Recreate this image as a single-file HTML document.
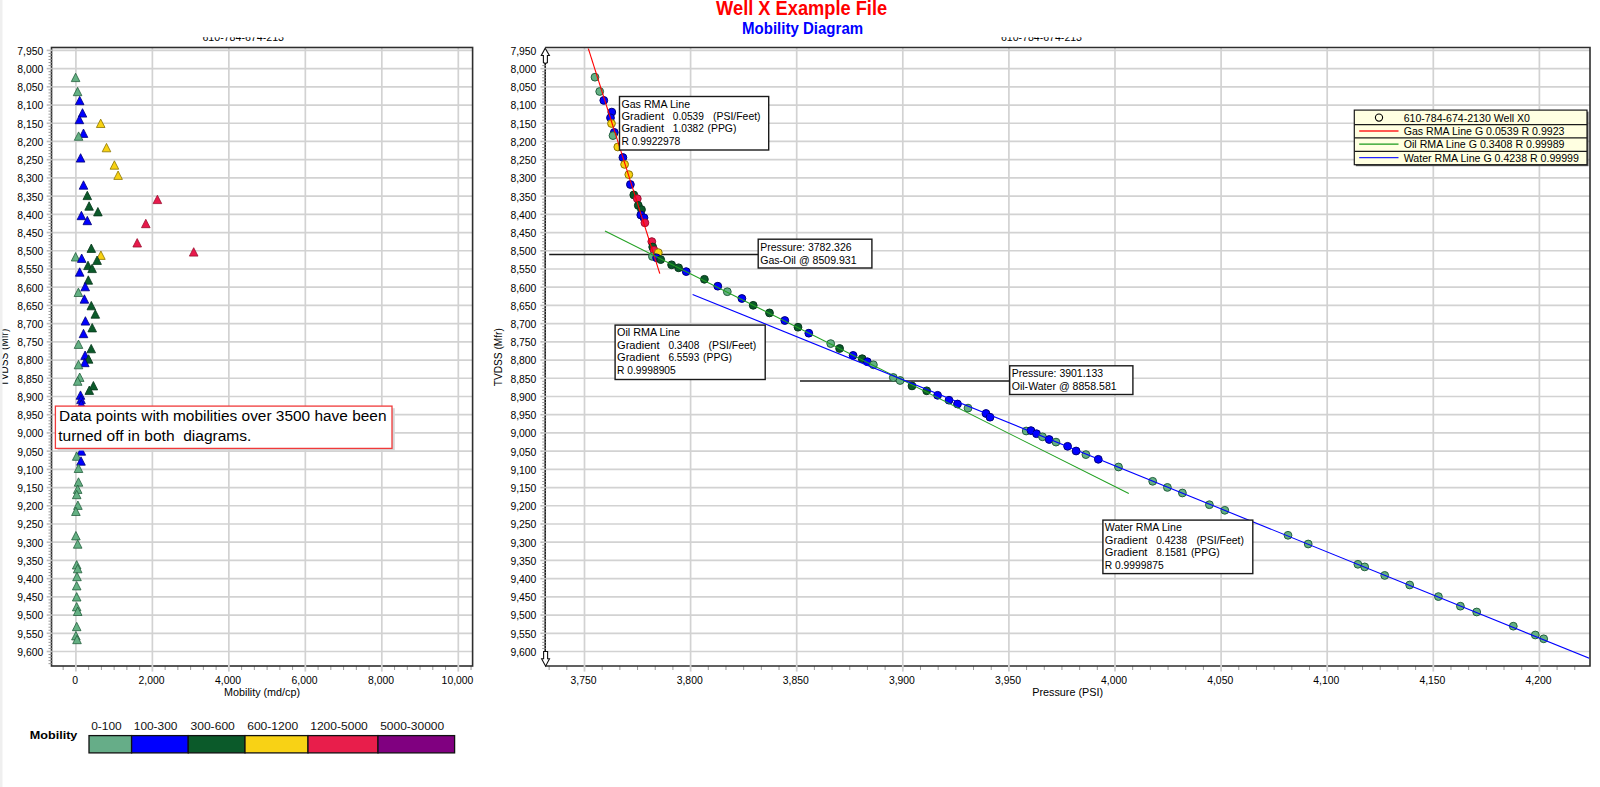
<!DOCTYPE html><html><head><meta charset="utf-8"><style>html,body{margin:0;padding:0;background:#fff;width:1600px;height:787px;overflow:hidden}svg{display:block}text{font-family:"Liberation Sans",sans-serif}</style></head><body>
<svg width="1600" height="787" viewBox="0 0 1600 787">
<rect x="0" y="0" width="1600" height="787" fill="#fff"/>
<rect x="0" y="0" width="2.5" height="787" fill="#efefef"/>
<text x="801.6" y="14.9" font-size="20" text-anchor="middle" fill="#ff0000" font-weight="bold" textLength="171" lengthAdjust="spacingAndGlyphs">Well X Example File</text>
<text x="802.6" y="33.7" font-size="16.6" text-anchor="middle" fill="#0000ff" font-weight="bold" textLength="121" lengthAdjust="spacingAndGlyphs">Mobility Diagram</text>
<clipPath id="sub"><rect x="0" y="37.3" width="1600" height="9"/></clipPath>
<g clip-path="url(#sub)">
<text x="243.2" y="41.3" font-size="11.5" text-anchor="middle" fill="#000" font-weight="normal" textLength="81.6" lengthAdjust="spacingAndGlyphs">610-784-674-213</text>
<text x="1041.5" y="41.3" font-size="11.5" text-anchor="middle" fill="#000" font-weight="normal" textLength="81" lengthAdjust="spacingAndGlyphs">610-784-674-213</text>
</g>
<line x1="51.5" y1="50.4" x2="472.6" y2="50.4" stroke="#d2d2d2" stroke-width="1.7"/>
<line x1="51.5" y1="68.61" x2="472.6" y2="68.61" stroke="#d2d2d2" stroke-width="1.7"/>
<line x1="51.5" y1="86.83" x2="472.6" y2="86.83" stroke="#d2d2d2" stroke-width="1.7"/>
<line x1="51.5" y1="105.05" x2="472.6" y2="105.05" stroke="#d2d2d2" stroke-width="1.7"/>
<line x1="51.5" y1="123.26" x2="472.6" y2="123.26" stroke="#d2d2d2" stroke-width="1.7"/>
<line x1="51.5" y1="141.47" x2="472.6" y2="141.47" stroke="#d2d2d2" stroke-width="1.7"/>
<line x1="51.5" y1="159.69" x2="472.6" y2="159.69" stroke="#d2d2d2" stroke-width="1.7"/>
<line x1="51.5" y1="177.91" x2="472.6" y2="177.91" stroke="#d2d2d2" stroke-width="1.7"/>
<line x1="51.5" y1="196.12" x2="472.6" y2="196.12" stroke="#d2d2d2" stroke-width="1.7"/>
<line x1="51.5" y1="214.34" x2="472.6" y2="214.34" stroke="#d2d2d2" stroke-width="1.7"/>
<line x1="51.5" y1="232.55" x2="472.6" y2="232.55" stroke="#d2d2d2" stroke-width="1.7"/>
<line x1="51.5" y1="250.77" x2="472.6" y2="250.77" stroke="#d2d2d2" stroke-width="1.7"/>
<line x1="51.5" y1="268.98" x2="472.6" y2="268.98" stroke="#d2d2d2" stroke-width="1.7"/>
<line x1="51.5" y1="287.19" x2="472.6" y2="287.19" stroke="#d2d2d2" stroke-width="1.7"/>
<line x1="51.5" y1="305.41" x2="472.6" y2="305.41" stroke="#d2d2d2" stroke-width="1.7"/>
<line x1="51.5" y1="323.62" x2="472.6" y2="323.62" stroke="#d2d2d2" stroke-width="1.7"/>
<line x1="51.5" y1="341.84" x2="472.6" y2="341.84" stroke="#d2d2d2" stroke-width="1.7"/>
<line x1="51.5" y1="360.06" x2="472.6" y2="360.06" stroke="#d2d2d2" stroke-width="1.7"/>
<line x1="51.5" y1="378.27" x2="472.6" y2="378.27" stroke="#d2d2d2" stroke-width="1.7"/>
<line x1="51.5" y1="396.49" x2="472.6" y2="396.49" stroke="#d2d2d2" stroke-width="1.7"/>
<line x1="51.5" y1="414.7" x2="472.6" y2="414.7" stroke="#d2d2d2" stroke-width="1.7"/>
<line x1="51.5" y1="432.91" x2="472.6" y2="432.91" stroke="#d2d2d2" stroke-width="1.7"/>
<line x1="51.5" y1="451.13" x2="472.6" y2="451.13" stroke="#d2d2d2" stroke-width="1.7"/>
<line x1="51.5" y1="469.34" x2="472.6" y2="469.34" stroke="#d2d2d2" stroke-width="1.7"/>
<line x1="51.5" y1="487.56" x2="472.6" y2="487.56" stroke="#d2d2d2" stroke-width="1.7"/>
<line x1="51.5" y1="505.77" x2="472.6" y2="505.77" stroke="#d2d2d2" stroke-width="1.7"/>
<line x1="51.5" y1="523.99" x2="472.6" y2="523.99" stroke="#d2d2d2" stroke-width="1.7"/>
<line x1="51.5" y1="542.21" x2="472.6" y2="542.21" stroke="#d2d2d2" stroke-width="1.7"/>
<line x1="51.5" y1="560.42" x2="472.6" y2="560.42" stroke="#d2d2d2" stroke-width="1.7"/>
<line x1="51.5" y1="578.63" x2="472.6" y2="578.63" stroke="#d2d2d2" stroke-width="1.7"/>
<line x1="51.5" y1="596.85" x2="472.6" y2="596.85" stroke="#d2d2d2" stroke-width="1.7"/>
<line x1="51.5" y1="615.06" x2="472.6" y2="615.06" stroke="#d2d2d2" stroke-width="1.7"/>
<line x1="51.5" y1="633.28" x2="472.6" y2="633.28" stroke="#d2d2d2" stroke-width="1.7"/>
<line x1="51.5" y1="651.5" x2="472.6" y2="651.5" stroke="#d2d2d2" stroke-width="1.7"/>
<line x1="75.9" y1="47.5" x2="75.9" y2="666" stroke="#d2d2d2" stroke-width="1.7"/>
<line x1="152.38" y1="47.5" x2="152.38" y2="666" stroke="#d2d2d2" stroke-width="1.7"/>
<line x1="228.86" y1="47.5" x2="228.86" y2="666" stroke="#d2d2d2" stroke-width="1.7"/>
<line x1="305.34" y1="47.5" x2="305.34" y2="666" stroke="#d2d2d2" stroke-width="1.7"/>
<line x1="381.82" y1="47.5" x2="381.82" y2="666" stroke="#d2d2d2" stroke-width="1.7"/>
<line x1="458.3" y1="47.5" x2="458.3" y2="666" stroke="#d2d2d2" stroke-width="1.7"/>
<line x1="545.2" y1="50.4" x2="1590" y2="50.4" stroke="#d2d2d2" stroke-width="1.7"/>
<line x1="545.2" y1="68.61" x2="1590" y2="68.61" stroke="#d2d2d2" stroke-width="1.7"/>
<line x1="545.2" y1="86.83" x2="1590" y2="86.83" stroke="#d2d2d2" stroke-width="1.7"/>
<line x1="545.2" y1="105.05" x2="1590" y2="105.05" stroke="#d2d2d2" stroke-width="1.7"/>
<line x1="545.2" y1="123.26" x2="1590" y2="123.26" stroke="#d2d2d2" stroke-width="1.7"/>
<line x1="545.2" y1="141.47" x2="1590" y2="141.47" stroke="#d2d2d2" stroke-width="1.7"/>
<line x1="545.2" y1="159.69" x2="1590" y2="159.69" stroke="#d2d2d2" stroke-width="1.7"/>
<line x1="545.2" y1="177.91" x2="1590" y2="177.91" stroke="#d2d2d2" stroke-width="1.7"/>
<line x1="545.2" y1="196.12" x2="1590" y2="196.12" stroke="#d2d2d2" stroke-width="1.7"/>
<line x1="545.2" y1="214.34" x2="1590" y2="214.34" stroke="#d2d2d2" stroke-width="1.7"/>
<line x1="545.2" y1="232.55" x2="1590" y2="232.55" stroke="#d2d2d2" stroke-width="1.7"/>
<line x1="545.2" y1="250.77" x2="1590" y2="250.77" stroke="#d2d2d2" stroke-width="1.7"/>
<line x1="545.2" y1="268.98" x2="1590" y2="268.98" stroke="#d2d2d2" stroke-width="1.7"/>
<line x1="545.2" y1="287.19" x2="1590" y2="287.19" stroke="#d2d2d2" stroke-width="1.7"/>
<line x1="545.2" y1="305.41" x2="1590" y2="305.41" stroke="#d2d2d2" stroke-width="1.7"/>
<line x1="545.2" y1="323.62" x2="1590" y2="323.62" stroke="#d2d2d2" stroke-width="1.7"/>
<line x1="545.2" y1="341.84" x2="1590" y2="341.84" stroke="#d2d2d2" stroke-width="1.7"/>
<line x1="545.2" y1="360.06" x2="1590" y2="360.06" stroke="#d2d2d2" stroke-width="1.7"/>
<line x1="545.2" y1="378.27" x2="1590" y2="378.27" stroke="#d2d2d2" stroke-width="1.7"/>
<line x1="545.2" y1="396.49" x2="1590" y2="396.49" stroke="#d2d2d2" stroke-width="1.7"/>
<line x1="545.2" y1="414.7" x2="1590" y2="414.7" stroke="#d2d2d2" stroke-width="1.7"/>
<line x1="545.2" y1="432.91" x2="1590" y2="432.91" stroke="#d2d2d2" stroke-width="1.7"/>
<line x1="545.2" y1="451.13" x2="1590" y2="451.13" stroke="#d2d2d2" stroke-width="1.7"/>
<line x1="545.2" y1="469.34" x2="1590" y2="469.34" stroke="#d2d2d2" stroke-width="1.7"/>
<line x1="545.2" y1="487.56" x2="1590" y2="487.56" stroke="#d2d2d2" stroke-width="1.7"/>
<line x1="545.2" y1="505.77" x2="1590" y2="505.77" stroke="#d2d2d2" stroke-width="1.7"/>
<line x1="545.2" y1="523.99" x2="1590" y2="523.99" stroke="#d2d2d2" stroke-width="1.7"/>
<line x1="545.2" y1="542.21" x2="1590" y2="542.21" stroke="#d2d2d2" stroke-width="1.7"/>
<line x1="545.2" y1="560.42" x2="1590" y2="560.42" stroke="#d2d2d2" stroke-width="1.7"/>
<line x1="545.2" y1="578.63" x2="1590" y2="578.63" stroke="#d2d2d2" stroke-width="1.7"/>
<line x1="545.2" y1="596.85" x2="1590" y2="596.85" stroke="#d2d2d2" stroke-width="1.7"/>
<line x1="545.2" y1="615.06" x2="1590" y2="615.06" stroke="#d2d2d2" stroke-width="1.7"/>
<line x1="545.2" y1="633.28" x2="1590" y2="633.28" stroke="#d2d2d2" stroke-width="1.7"/>
<line x1="545.2" y1="651.5" x2="1590" y2="651.5" stroke="#d2d2d2" stroke-width="1.7"/>
<line x1="584.5" y1="47.5" x2="584.5" y2="666" stroke="#d2d2d2" stroke-width="1.7"/>
<line x1="690.6" y1="47.5" x2="690.6" y2="666" stroke="#d2d2d2" stroke-width="1.7"/>
<line x1="796.7" y1="47.5" x2="796.7" y2="666" stroke="#d2d2d2" stroke-width="1.7"/>
<line x1="902.8" y1="47.5" x2="902.8" y2="666" stroke="#d2d2d2" stroke-width="1.7"/>
<line x1="1008.9" y1="47.5" x2="1008.9" y2="666" stroke="#d2d2d2" stroke-width="1.7"/>
<line x1="1115" y1="47.5" x2="1115" y2="666" stroke="#d2d2d2" stroke-width="1.7"/>
<line x1="1221.1" y1="47.5" x2="1221.1" y2="666" stroke="#d2d2d2" stroke-width="1.7"/>
<line x1="1327.2" y1="47.5" x2="1327.2" y2="666" stroke="#d2d2d2" stroke-width="1.7"/>
<line x1="1433.3" y1="47.5" x2="1433.3" y2="666" stroke="#d2d2d2" stroke-width="1.7"/>
<line x1="1539.4" y1="47.5" x2="1539.4" y2="666" stroke="#d2d2d2" stroke-width="1.7"/>
<text x="43.3" y="54.8" font-size="10.4" text-anchor="end" fill="#000" font-weight="normal">7,950</text>
<text x="43.3" y="73.02" font-size="10.4" text-anchor="end" fill="#000" font-weight="normal">8,000</text>
<text x="43.3" y="91.23" font-size="10.4" text-anchor="end" fill="#000" font-weight="normal">8,050</text>
<text x="43.3" y="109.45" font-size="10.4" text-anchor="end" fill="#000" font-weight="normal">8,100</text>
<text x="43.3" y="127.66" font-size="10.4" text-anchor="end" fill="#000" font-weight="normal">8,150</text>
<text x="43.3" y="145.88" font-size="10.4" text-anchor="end" fill="#000" font-weight="normal">8,200</text>
<text x="43.3" y="164.09" font-size="10.4" text-anchor="end" fill="#000" font-weight="normal">8,250</text>
<text x="43.3" y="182.31" font-size="10.4" text-anchor="end" fill="#000" font-weight="normal">8,300</text>
<text x="43.3" y="200.52" font-size="10.4" text-anchor="end" fill="#000" font-weight="normal">8,350</text>
<text x="43.3" y="218.74" font-size="10.4" text-anchor="end" fill="#000" font-weight="normal">8,400</text>
<text x="43.3" y="236.95" font-size="10.4" text-anchor="end" fill="#000" font-weight="normal">8,450</text>
<text x="43.3" y="255.17" font-size="10.4" text-anchor="end" fill="#000" font-weight="normal">8,500</text>
<text x="43.3" y="273.38" font-size="10.4" text-anchor="end" fill="#000" font-weight="normal">8,550</text>
<text x="43.3" y="291.59" font-size="10.4" text-anchor="end" fill="#000" font-weight="normal">8,600</text>
<text x="43.3" y="309.81" font-size="10.4" text-anchor="end" fill="#000" font-weight="normal">8,650</text>
<text x="43.3" y="328.02" font-size="10.4" text-anchor="end" fill="#000" font-weight="normal">8,700</text>
<text x="43.3" y="346.24" font-size="10.4" text-anchor="end" fill="#000" font-weight="normal">8,750</text>
<text x="43.3" y="364.45" font-size="10.4" text-anchor="end" fill="#000" font-weight="normal">8,800</text>
<text x="43.3" y="382.67" font-size="10.4" text-anchor="end" fill="#000" font-weight="normal">8,850</text>
<text x="43.3" y="400.88" font-size="10.4" text-anchor="end" fill="#000" font-weight="normal">8,900</text>
<text x="43.3" y="419.1" font-size="10.4" text-anchor="end" fill="#000" font-weight="normal">8,950</text>
<text x="43.3" y="437.31" font-size="10.4" text-anchor="end" fill="#000" font-weight="normal">9,000</text>
<text x="43.3" y="455.53" font-size="10.4" text-anchor="end" fill="#000" font-weight="normal">9,050</text>
<text x="43.3" y="473.74" font-size="10.4" text-anchor="end" fill="#000" font-weight="normal">9,100</text>
<text x="43.3" y="491.96" font-size="10.4" text-anchor="end" fill="#000" font-weight="normal">9,150</text>
<text x="43.3" y="510.17" font-size="10.4" text-anchor="end" fill="#000" font-weight="normal">9,200</text>
<text x="43.3" y="528.39" font-size="10.4" text-anchor="end" fill="#000" font-weight="normal">9,250</text>
<text x="43.3" y="546.61" font-size="10.4" text-anchor="end" fill="#000" font-weight="normal">9,300</text>
<text x="43.3" y="564.82" font-size="10.4" text-anchor="end" fill="#000" font-weight="normal">9,350</text>
<text x="43.3" y="583.03" font-size="10.4" text-anchor="end" fill="#000" font-weight="normal">9,400</text>
<text x="43.3" y="601.25" font-size="10.4" text-anchor="end" fill="#000" font-weight="normal">9,450</text>
<text x="43.3" y="619.46" font-size="10.4" text-anchor="end" fill="#000" font-weight="normal">9,500</text>
<text x="43.3" y="637.68" font-size="10.4" text-anchor="end" fill="#000" font-weight="normal">9,550</text>
<text x="43.3" y="655.89" font-size="10.4" text-anchor="end" fill="#000" font-weight="normal">9,600</text>
<text x="536.4" y="54.8" font-size="10.4" text-anchor="end" fill="#000" font-weight="normal">7,950</text>
<text x="536.4" y="73.02" font-size="10.4" text-anchor="end" fill="#000" font-weight="normal">8,000</text>
<text x="536.4" y="91.23" font-size="10.4" text-anchor="end" fill="#000" font-weight="normal">8,050</text>
<text x="536.4" y="109.45" font-size="10.4" text-anchor="end" fill="#000" font-weight="normal">8,100</text>
<text x="536.4" y="127.66" font-size="10.4" text-anchor="end" fill="#000" font-weight="normal">8,150</text>
<text x="536.4" y="145.88" font-size="10.4" text-anchor="end" fill="#000" font-weight="normal">8,200</text>
<text x="536.4" y="164.09" font-size="10.4" text-anchor="end" fill="#000" font-weight="normal">8,250</text>
<text x="536.4" y="182.31" font-size="10.4" text-anchor="end" fill="#000" font-weight="normal">8,300</text>
<text x="536.4" y="200.52" font-size="10.4" text-anchor="end" fill="#000" font-weight="normal">8,350</text>
<text x="536.4" y="218.74" font-size="10.4" text-anchor="end" fill="#000" font-weight="normal">8,400</text>
<text x="536.4" y="236.95" font-size="10.4" text-anchor="end" fill="#000" font-weight="normal">8,450</text>
<text x="536.4" y="255.17" font-size="10.4" text-anchor="end" fill="#000" font-weight="normal">8,500</text>
<text x="536.4" y="273.38" font-size="10.4" text-anchor="end" fill="#000" font-weight="normal">8,550</text>
<text x="536.4" y="291.59" font-size="10.4" text-anchor="end" fill="#000" font-weight="normal">8,600</text>
<text x="536.4" y="309.81" font-size="10.4" text-anchor="end" fill="#000" font-weight="normal">8,650</text>
<text x="536.4" y="328.02" font-size="10.4" text-anchor="end" fill="#000" font-weight="normal">8,700</text>
<text x="536.4" y="346.24" font-size="10.4" text-anchor="end" fill="#000" font-weight="normal">8,750</text>
<text x="536.4" y="364.45" font-size="10.4" text-anchor="end" fill="#000" font-weight="normal">8,800</text>
<text x="536.4" y="382.67" font-size="10.4" text-anchor="end" fill="#000" font-weight="normal">8,850</text>
<text x="536.4" y="400.88" font-size="10.4" text-anchor="end" fill="#000" font-weight="normal">8,900</text>
<text x="536.4" y="419.1" font-size="10.4" text-anchor="end" fill="#000" font-weight="normal">8,950</text>
<text x="536.4" y="437.31" font-size="10.4" text-anchor="end" fill="#000" font-weight="normal">9,000</text>
<text x="536.4" y="455.53" font-size="10.4" text-anchor="end" fill="#000" font-weight="normal">9,050</text>
<text x="536.4" y="473.74" font-size="10.4" text-anchor="end" fill="#000" font-weight="normal">9,100</text>
<text x="536.4" y="491.96" font-size="10.4" text-anchor="end" fill="#000" font-weight="normal">9,150</text>
<text x="536.4" y="510.17" font-size="10.4" text-anchor="end" fill="#000" font-weight="normal">9,200</text>
<text x="536.4" y="528.39" font-size="10.4" text-anchor="end" fill="#000" font-weight="normal">9,250</text>
<text x="536.4" y="546.61" font-size="10.4" text-anchor="end" fill="#000" font-weight="normal">9,300</text>
<text x="536.4" y="564.82" font-size="10.4" text-anchor="end" fill="#000" font-weight="normal">9,350</text>
<text x="536.4" y="583.03" font-size="10.4" text-anchor="end" fill="#000" font-weight="normal">9,400</text>
<text x="536.4" y="601.25" font-size="10.4" text-anchor="end" fill="#000" font-weight="normal">9,450</text>
<text x="536.4" y="619.46" font-size="10.4" text-anchor="end" fill="#000" font-weight="normal">9,500</text>
<text x="536.4" y="637.68" font-size="10.4" text-anchor="end" fill="#000" font-weight="normal">9,550</text>
<text x="536.4" y="655.89" font-size="10.4" text-anchor="end" fill="#000" font-weight="normal">9,600</text>
<line x1="63.15" y1="666" x2="63.15" y2="670" stroke="#9a9a9a" stroke-width="1"/>
<line x1="88.65" y1="666" x2="88.65" y2="670" stroke="#9a9a9a" stroke-width="1"/>
<line x1="101.39" y1="666" x2="101.39" y2="670" stroke="#9a9a9a" stroke-width="1"/>
<line x1="114.14" y1="666" x2="114.14" y2="670" stroke="#9a9a9a" stroke-width="1"/>
<line x1="126.89" y1="666" x2="126.89" y2="670" stroke="#9a9a9a" stroke-width="1"/>
<line x1="139.63" y1="666" x2="139.63" y2="670" stroke="#9a9a9a" stroke-width="1"/>
<line x1="165.13" y1="666" x2="165.13" y2="670" stroke="#9a9a9a" stroke-width="1"/>
<line x1="177.87" y1="666" x2="177.87" y2="670" stroke="#9a9a9a" stroke-width="1"/>
<line x1="190.62" y1="666" x2="190.62" y2="670" stroke="#9a9a9a" stroke-width="1"/>
<line x1="203.37" y1="666" x2="203.37" y2="670" stroke="#9a9a9a" stroke-width="1"/>
<line x1="216.11" y1="666" x2="216.11" y2="670" stroke="#9a9a9a" stroke-width="1"/>
<line x1="241.61" y1="666" x2="241.61" y2="670" stroke="#9a9a9a" stroke-width="1"/>
<line x1="254.35" y1="666" x2="254.35" y2="670" stroke="#9a9a9a" stroke-width="1"/>
<line x1="267.1" y1="666" x2="267.1" y2="670" stroke="#9a9a9a" stroke-width="1"/>
<line x1="279.85" y1="666" x2="279.85" y2="670" stroke="#9a9a9a" stroke-width="1"/>
<line x1="292.59" y1="666" x2="292.59" y2="670" stroke="#9a9a9a" stroke-width="1"/>
<line x1="318.09" y1="666" x2="318.09" y2="670" stroke="#9a9a9a" stroke-width="1"/>
<line x1="330.83" y1="666" x2="330.83" y2="670" stroke="#9a9a9a" stroke-width="1"/>
<line x1="343.58" y1="666" x2="343.58" y2="670" stroke="#9a9a9a" stroke-width="1"/>
<line x1="356.33" y1="666" x2="356.33" y2="670" stroke="#9a9a9a" stroke-width="1"/>
<line x1="369.07" y1="666" x2="369.07" y2="670" stroke="#9a9a9a" stroke-width="1"/>
<line x1="394.57" y1="666" x2="394.57" y2="670" stroke="#9a9a9a" stroke-width="1"/>
<line x1="407.31" y1="666" x2="407.31" y2="670" stroke="#9a9a9a" stroke-width="1"/>
<line x1="420.06" y1="666" x2="420.06" y2="670" stroke="#9a9a9a" stroke-width="1"/>
<line x1="432.81" y1="666" x2="432.81" y2="670" stroke="#9a9a9a" stroke-width="1"/>
<line x1="445.55" y1="666" x2="445.55" y2="670" stroke="#9a9a9a" stroke-width="1"/>
<line x1="471.05" y1="666" x2="471.05" y2="670" stroke="#9a9a9a" stroke-width="1"/>
<text x="75.1" y="683.8" font-size="10.4" text-anchor="middle" fill="#000" font-weight="normal">0</text>
<text x="151.58" y="683.8" font-size="10.4" text-anchor="middle" fill="#000" font-weight="normal">2,000</text>
<text x="228.06" y="683.8" font-size="10.4" text-anchor="middle" fill="#000" font-weight="normal">4,000</text>
<text x="304.54" y="683.8" font-size="10.4" text-anchor="middle" fill="#000" font-weight="normal">6,000</text>
<text x="381.02" y="683.8" font-size="10.4" text-anchor="middle" fill="#000" font-weight="normal">8,000</text>
<text x="457.5" y="683.8" font-size="10.4" text-anchor="middle" fill="#000" font-weight="normal">10,000</text>
<text x="262.05" y="695.8" font-size="10.8" text-anchor="middle" fill="#000" font-weight="normal" textLength="76" lengthAdjust="spacingAndGlyphs">Mobility (md/cp)</text>
<line x1="549.13" y1="666" x2="549.13" y2="670" stroke="#9a9a9a" stroke-width="1"/>
<line x1="566.82" y1="666" x2="566.82" y2="670" stroke="#9a9a9a" stroke-width="1"/>
<line x1="602.18" y1="666" x2="602.18" y2="670" stroke="#9a9a9a" stroke-width="1"/>
<line x1="619.87" y1="666" x2="619.87" y2="670" stroke="#9a9a9a" stroke-width="1"/>
<line x1="637.55" y1="666" x2="637.55" y2="670" stroke="#9a9a9a" stroke-width="1"/>
<line x1="655.23" y1="666" x2="655.23" y2="670" stroke="#9a9a9a" stroke-width="1"/>
<line x1="672.92" y1="666" x2="672.92" y2="670" stroke="#9a9a9a" stroke-width="1"/>
<line x1="708.28" y1="666" x2="708.28" y2="670" stroke="#9a9a9a" stroke-width="1"/>
<line x1="725.97" y1="666" x2="725.97" y2="670" stroke="#9a9a9a" stroke-width="1"/>
<line x1="743.65" y1="666" x2="743.65" y2="670" stroke="#9a9a9a" stroke-width="1"/>
<line x1="761.33" y1="666" x2="761.33" y2="670" stroke="#9a9a9a" stroke-width="1"/>
<line x1="779.02" y1="666" x2="779.02" y2="670" stroke="#9a9a9a" stroke-width="1"/>
<line x1="814.38" y1="666" x2="814.38" y2="670" stroke="#9a9a9a" stroke-width="1"/>
<line x1="832.07" y1="666" x2="832.07" y2="670" stroke="#9a9a9a" stroke-width="1"/>
<line x1="849.75" y1="666" x2="849.75" y2="670" stroke="#9a9a9a" stroke-width="1"/>
<line x1="867.43" y1="666" x2="867.43" y2="670" stroke="#9a9a9a" stroke-width="1"/>
<line x1="885.12" y1="666" x2="885.12" y2="670" stroke="#9a9a9a" stroke-width="1"/>
<line x1="920.48" y1="666" x2="920.48" y2="670" stroke="#9a9a9a" stroke-width="1"/>
<line x1="938.17" y1="666" x2="938.17" y2="670" stroke="#9a9a9a" stroke-width="1"/>
<line x1="955.85" y1="666" x2="955.85" y2="670" stroke="#9a9a9a" stroke-width="1"/>
<line x1="973.53" y1="666" x2="973.53" y2="670" stroke="#9a9a9a" stroke-width="1"/>
<line x1="991.22" y1="666" x2="991.22" y2="670" stroke="#9a9a9a" stroke-width="1"/>
<line x1="1026.58" y1="666" x2="1026.58" y2="670" stroke="#9a9a9a" stroke-width="1"/>
<line x1="1044.27" y1="666" x2="1044.27" y2="670" stroke="#9a9a9a" stroke-width="1"/>
<line x1="1061.95" y1="666" x2="1061.95" y2="670" stroke="#9a9a9a" stroke-width="1"/>
<line x1="1079.63" y1="666" x2="1079.63" y2="670" stroke="#9a9a9a" stroke-width="1"/>
<line x1="1097.32" y1="666" x2="1097.32" y2="670" stroke="#9a9a9a" stroke-width="1"/>
<line x1="1132.68" y1="666" x2="1132.68" y2="670" stroke="#9a9a9a" stroke-width="1"/>
<line x1="1150.37" y1="666" x2="1150.37" y2="670" stroke="#9a9a9a" stroke-width="1"/>
<line x1="1168.05" y1="666" x2="1168.05" y2="670" stroke="#9a9a9a" stroke-width="1"/>
<line x1="1185.73" y1="666" x2="1185.73" y2="670" stroke="#9a9a9a" stroke-width="1"/>
<line x1="1203.42" y1="666" x2="1203.42" y2="670" stroke="#9a9a9a" stroke-width="1"/>
<line x1="1238.78" y1="666" x2="1238.78" y2="670" stroke="#9a9a9a" stroke-width="1"/>
<line x1="1256.47" y1="666" x2="1256.47" y2="670" stroke="#9a9a9a" stroke-width="1"/>
<line x1="1274.15" y1="666" x2="1274.15" y2="670" stroke="#9a9a9a" stroke-width="1"/>
<line x1="1291.83" y1="666" x2="1291.83" y2="670" stroke="#9a9a9a" stroke-width="1"/>
<line x1="1309.52" y1="666" x2="1309.52" y2="670" stroke="#9a9a9a" stroke-width="1"/>
<line x1="1344.88" y1="666" x2="1344.88" y2="670" stroke="#9a9a9a" stroke-width="1"/>
<line x1="1362.57" y1="666" x2="1362.57" y2="670" stroke="#9a9a9a" stroke-width="1"/>
<line x1="1380.25" y1="666" x2="1380.25" y2="670" stroke="#9a9a9a" stroke-width="1"/>
<line x1="1397.93" y1="666" x2="1397.93" y2="670" stroke="#9a9a9a" stroke-width="1"/>
<line x1="1415.62" y1="666" x2="1415.62" y2="670" stroke="#9a9a9a" stroke-width="1"/>
<line x1="1450.98" y1="666" x2="1450.98" y2="670" stroke="#9a9a9a" stroke-width="1"/>
<line x1="1468.67" y1="666" x2="1468.67" y2="670" stroke="#9a9a9a" stroke-width="1"/>
<line x1="1486.35" y1="666" x2="1486.35" y2="670" stroke="#9a9a9a" stroke-width="1"/>
<line x1="1504.03" y1="666" x2="1504.03" y2="670" stroke="#9a9a9a" stroke-width="1"/>
<line x1="1521.72" y1="666" x2="1521.72" y2="670" stroke="#9a9a9a" stroke-width="1"/>
<line x1="1557.08" y1="666" x2="1557.08" y2="670" stroke="#9a9a9a" stroke-width="1"/>
<line x1="1574.77" y1="666" x2="1574.77" y2="670" stroke="#9a9a9a" stroke-width="1"/>
<text x="583.6" y="683.8" font-size="10.4" text-anchor="middle" fill="#000" font-weight="normal">3,750</text>
<text x="689.7" y="683.8" font-size="10.4" text-anchor="middle" fill="#000" font-weight="normal">3,800</text>
<text x="795.8" y="683.8" font-size="10.4" text-anchor="middle" fill="#000" font-weight="normal">3,850</text>
<text x="901.9" y="683.8" font-size="10.4" text-anchor="middle" fill="#000" font-weight="normal">3,900</text>
<text x="1008" y="683.8" font-size="10.4" text-anchor="middle" fill="#000" font-weight="normal">3,950</text>
<text x="1114.1" y="683.8" font-size="10.4" text-anchor="middle" fill="#000" font-weight="normal">4,000</text>
<text x="1220.2" y="683.8" font-size="10.4" text-anchor="middle" fill="#000" font-weight="normal">4,050</text>
<text x="1326.3" y="683.8" font-size="10.4" text-anchor="middle" fill="#000" font-weight="normal">4,100</text>
<text x="1432.4" y="683.8" font-size="10.4" text-anchor="middle" fill="#000" font-weight="normal">4,150</text>
<text x="1538.5" y="683.8" font-size="10.4" text-anchor="middle" fill="#000" font-weight="normal">4,200</text>
<text x="1067.6" y="695.8" font-size="10.8" text-anchor="middle" fill="#000" font-weight="normal">Pressure (PSI)</text>
<clipPath id="lclip"><rect x="2.5" y="0" width="50" height="787"/></clipPath>
<g clip-path="url(#lclip)"><text x="0" y="0" font-size="10" text-anchor="middle" fill="#000" transform="translate(8.2,357.5) rotate(-90)" textLength="57.5" lengthAdjust="spacingAndGlyphs">TVDSS (Mfr)</text></g>
<text x="0" y="0" font-size="10" text-anchor="middle" fill="#000" transform="translate(501.8,357.2) rotate(-90)" textLength="58" lengthAdjust="spacingAndGlyphs">TVDSS (Mfr)</text>
<clipPath id="lc"><rect x="52.5" y="48.5" width="419" height="617"/></clipPath>
<g clip-path="url(#lc)">
<path d="M75.6 73.2L79.9 81.6L71.3 81.6Z" fill="#64b083" stroke="#24603e" stroke-width="0.8"/>
<path d="M77.6 87.3L81.9 95.7L73.3 95.7Z" fill="#64b083" stroke="#24603e" stroke-width="0.8"/>
<path d="M79.7 96.3L84 104.7L75.4 104.7Z" fill="#0000ff" stroke="#00007a" stroke-width="0.8"/>
<path d="M82.5 108.7L86.8 117.1L78.2 117.1Z" fill="#0000ff" stroke="#00007a" stroke-width="0.8"/>
<path d="M79.4 115.3L83.7 123.7L75.1 123.7Z" fill="#0000ff" stroke="#00007a" stroke-width="0.8"/>
<path d="M100.7 119.1L105 127.5L96.4 127.5Z" fill="#f8d212" stroke="#8a7400" stroke-width="0.8"/>
<path d="M83.5 129L87.8 137.4L79.2 137.4Z" fill="#0000ff" stroke="#00007a" stroke-width="0.8"/>
<path d="M78.6 131.9L82.9 140.3L74.3 140.3Z" fill="#64b083" stroke="#24603e" stroke-width="0.8"/>
<path d="M106.5 143.4L110.8 151.8L102.2 151.8Z" fill="#f8d212" stroke="#8a7400" stroke-width="0.8"/>
<path d="M80.6 153.7L84.9 162.1L76.3 162.1Z" fill="#0000ff" stroke="#00007a" stroke-width="0.8"/>
<path d="M114.4 160.8L118.7 169.2L110.1 169.2Z" fill="#f8d212" stroke="#8a7400" stroke-width="0.8"/>
<path d="M118.1 171L122.4 179.4L113.8 179.4Z" fill="#f8d212" stroke="#8a7400" stroke-width="0.8"/>
<path d="M83.5 180.8L87.8 189.2L79.2 189.2Z" fill="#0000ff" stroke="#00007a" stroke-width="0.8"/>
<path d="M87.3 191.2L91.6 199.6L83 199.6Z" fill="#0b5a2a" stroke="#06361a" stroke-width="0.8"/>
<path d="M157.4 195.2L161.7 203.6L153.1 203.6Z" fill="#e8194b" stroke="#9a0f30" stroke-width="0.8"/>
<path d="M89.1 201.8L93.4 210.2L84.8 210.2Z" fill="#0b5a2a" stroke="#06361a" stroke-width="0.8"/>
<path d="M97.9 207.5L102.2 215.9L93.6 215.9Z" fill="#0b5a2a" stroke="#06361a" stroke-width="0.8"/>
<path d="M81.4 211.3L85.7 219.7L77.1 219.7Z" fill="#0000ff" stroke="#00007a" stroke-width="0.8"/>
<path d="M87.3 216.3L91.6 224.7L83 224.7Z" fill="#0000ff" stroke="#00007a" stroke-width="0.8"/>
<path d="M145.8 219.3L150.1 227.7L141.5 227.7Z" fill="#e8194b" stroke="#9a0f30" stroke-width="0.8"/>
<path d="M137.2 238.6L141.5 247L132.9 247Z" fill="#e8194b" stroke="#9a0f30" stroke-width="0.8"/>
<path d="M91.3 244L95.6 252.4L87 252.4Z" fill="#0b5a2a" stroke="#06361a" stroke-width="0.8"/>
<path d="M193.7 247.7L198 256.1L189.4 256.1Z" fill="#e8194b" stroke="#9a0f30" stroke-width="0.8"/>
<path d="M100.9 251L105.2 259.4L96.6 259.4Z" fill="#f8d212" stroke="#8a7400" stroke-width="0.8"/>
<path d="M75.6 252.6L79.9 261L71.3 261Z" fill="#64b083" stroke="#24603e" stroke-width="0.8"/>
<path d="M81.7 254L86 262.4L77.4 262.4Z" fill="#0000ff" stroke="#00007a" stroke-width="0.8"/>
<path d="M97.1 256L101.4 264.4L92.8 264.4Z" fill="#0b5a2a" stroke="#06361a" stroke-width="0.8"/>
<path d="M88 261.2L92.3 269.6L83.7 269.6Z" fill="#0b5a2a" stroke="#06361a" stroke-width="0.8"/>
<path d="M92.1 264.2L96.4 272.6L87.8 272.6Z" fill="#0b5a2a" stroke="#06361a" stroke-width="0.8"/>
<path d="M79.7 267.8L84 276.2L75.4 276.2Z" fill="#0000ff" stroke="#00007a" stroke-width="0.8"/>
<path d="M88.3 275.8L92.6 284.2L84 284.2Z" fill="#0b5a2a" stroke="#06361a" stroke-width="0.8"/>
<path d="M85.2 282.4L89.5 290.8L80.9 290.8Z" fill="#0000ff" stroke="#00007a" stroke-width="0.8"/>
<path d="M78.4 288.1L82.7 296.5L74.1 296.5Z" fill="#64b083" stroke="#24603e" stroke-width="0.8"/>
<path d="M84.4 294.8L88.7 303.2L80.1 303.2Z" fill="#0000ff" stroke="#00007a" stroke-width="0.8"/>
<path d="M91.3 301.4L95.6 309.8L87 309.8Z" fill="#0b5a2a" stroke="#06361a" stroke-width="0.8"/>
<path d="M95.3 309.8L99.6 318.2L91 318.2Z" fill="#0b5a2a" stroke="#06361a" stroke-width="0.8"/>
<path d="M85.4 316.7L89.7 325.1L81.1 325.1Z" fill="#0000ff" stroke="#00007a" stroke-width="0.8"/>
<path d="M92.2 323.5L96.5 331.9L87.9 331.9Z" fill="#0b5a2a" stroke="#06361a" stroke-width="0.8"/>
<path d="M83.5 329.3L87.8 337.7L79.2 337.7Z" fill="#0000ff" stroke="#00007a" stroke-width="0.8"/>
<path d="M78.5 340L82.8 348.4L74.2 348.4Z" fill="#64b083" stroke="#24603e" stroke-width="0.8"/>
<path d="M91.2 344.4L95.5 352.8L86.9 352.8Z" fill="#0b5a2a" stroke="#06361a" stroke-width="0.8"/>
<path d="M85.1 351L89.4 359.4L80.8 359.4Z" fill="#0000ff" stroke="#00007a" stroke-width="0.8"/>
<path d="M88.6 354.8L92.9 363.2L84.3 363.2Z" fill="#0b5a2a" stroke="#06361a" stroke-width="0.8"/>
<path d="M84.8 358.3L89.1 366.7L80.5 366.7Z" fill="#0000ff" stroke="#00007a" stroke-width="0.8"/>
<path d="M78.5 360.4L82.8 368.8L74.2 368.8Z" fill="#64b083" stroke="#24603e" stroke-width="0.8"/>
<path d="M79.7 373L84 381.4L75.4 381.4Z" fill="#64b083" stroke="#24603e" stroke-width="0.8"/>
<path d="M77.7 376.9L82 385.3L73.4 385.3Z" fill="#64b083" stroke="#24603e" stroke-width="0.8"/>
<path d="M93.4 381.5L97.7 389.9L89.1 389.9Z" fill="#0b5a2a" stroke="#06361a" stroke-width="0.8"/>
<path d="M89.3 386L93.6 394.4L85 394.4Z" fill="#0b5a2a" stroke="#06361a" stroke-width="0.8"/>
<path d="M80.5 390.9L84.8 399.3L76.2 399.3Z" fill="#0000ff" stroke="#00007a" stroke-width="0.8"/>
<path d="M81 395.2L85.3 403.6L76.7 403.6Z" fill="#0000ff" stroke="#00007a" stroke-width="0.8"/>
<path d="M81.3 399.8L85.6 408.2L77 408.2Z" fill="#0000ff" stroke="#00007a" stroke-width="0.8"/>
<path d="M81.3 446.8L85.6 455.2L77 455.2Z" fill="#0000ff" stroke="#00007a" stroke-width="0.8"/>
<path d="M76.7 451.9L81 460.3L72.4 460.3Z" fill="#64b083" stroke="#24603e" stroke-width="0.8"/>
<path d="M81 456.8L85.3 465.2L76.7 465.2Z" fill="#0000ff" stroke="#00007a" stroke-width="0.8"/>
<path d="M78.5 464.1L82.8 472.5L74.2 472.5Z" fill="#64b083" stroke="#24603e" stroke-width="0.8"/>
<path d="M78.5 477.8L82.8 486.2L74.2 486.2Z" fill="#64b083" stroke="#24603e" stroke-width="0.8"/>
<path d="M77.7 485L82 493.4L73.4 493.4Z" fill="#64b083" stroke="#24603e" stroke-width="0.8"/>
<path d="M76.7 490.3L81 498.7L72.4 498.7Z" fill="#64b083" stroke="#24603e" stroke-width="0.8"/>
<path d="M77.9 501L82.2 509.4L73.6 509.4Z" fill="#64b083" stroke="#24603e" stroke-width="0.8"/>
<path d="M75.9 507.1L80.2 515.5L71.6 515.5Z" fill="#64b083" stroke="#24603e" stroke-width="0.8"/>
<path d="M75.9 531.5L80.2 539.9L71.6 539.9Z" fill="#64b083" stroke="#24603e" stroke-width="0.8"/>
<path d="M77.7 539.8L82 548.2L73.4 548.2Z" fill="#64b083" stroke="#24603e" stroke-width="0.8"/>
<path d="M76.7 560.6L81 569L72.4 569Z" fill="#64b083" stroke="#24603e" stroke-width="0.8"/>
<path d="M77.7 564.4L82 572.8L73.4 572.8Z" fill="#64b083" stroke="#24603e" stroke-width="0.8"/>
<path d="M77 572.3L81.3 580.7L72.7 580.7Z" fill="#64b083" stroke="#24603e" stroke-width="0.8"/>
<path d="M76.7 581.5L81 589.9L72.4 589.9Z" fill="#64b083" stroke="#24603e" stroke-width="0.8"/>
<path d="M76.7 592.6L81 601L72.4 601Z" fill="#64b083" stroke="#24603e" stroke-width="0.8"/>
<path d="M76.7 602.5L81 610.9L72.4 610.9Z" fill="#64b083" stroke="#24603e" stroke-width="0.8"/>
<path d="M77.7 607.1L82 615.5L73.4 615.5Z" fill="#64b083" stroke="#24603e" stroke-width="0.8"/>
<path d="M76.7 622.3L81 630.7L72.4 630.7Z" fill="#64b083" stroke="#24603e" stroke-width="0.8"/>
<path d="M75.9 631.5L80.2 639.9L71.6 639.9Z" fill="#64b083" stroke="#24603e" stroke-width="0.8"/>
<path d="M77 635.3L81.3 643.7L72.7 643.7Z" fill="#64b083" stroke="#24603e" stroke-width="0.8"/>
</g>
<clipPath id="rc"><rect x="546" y="48.5" width="1043" height="617"/></clipPath>
<line x1="549.2" y1="254.5" x2="758.5" y2="254.5" stroke="#1a1a1a" stroke-width="1.4"/>
<line x1="800" y1="381" x2="1010" y2="381" stroke="#1a1a1a" stroke-width="1.4"/>
<g clip-path="url(#rc)">
<circle cx="595" cy="77.2" r="3.9" fill="#64b083" stroke="#24603e" stroke-width="1"/>
<circle cx="599.7" cy="91.5" r="3.9" fill="#64b083" stroke="#24603e" stroke-width="1"/>
<circle cx="603.8" cy="100.4" r="3.9" fill="#0000ff" stroke="#00007a" stroke-width="1"/>
<circle cx="611.8" cy="112.1" r="3.9" fill="#0000ff" stroke="#00007a" stroke-width="1"/>
<circle cx="610.5" cy="117.8" r="3.9" fill="#0000ff" stroke="#00007a" stroke-width="1"/>
<circle cx="611.5" cy="123.5" r="3.9" fill="#f8d212" stroke="#8a7400" stroke-width="1"/>
<circle cx="614.3" cy="132.4" r="3.9" fill="#0000ff" stroke="#00007a" stroke-width="1"/>
<circle cx="613" cy="135.6" r="3.9" fill="#64b083" stroke="#24603e" stroke-width="1"/>
<circle cx="617.8" cy="147" r="3.9" fill="#f8d212" stroke="#8a7400" stroke-width="1"/>
<circle cx="622.9" cy="157.5" r="3.9" fill="#0000ff" stroke="#00007a" stroke-width="1"/>
<circle cx="624.6" cy="164.4" r="3.9" fill="#f8d212" stroke="#8a7400" stroke-width="1"/>
<circle cx="628.8" cy="174.6" r="3.9" fill="#f8d212" stroke="#8a7400" stroke-width="1"/>
<circle cx="630.4" cy="184.5" r="3.9" fill="#0000ff" stroke="#00007a" stroke-width="1"/>
<circle cx="633.8" cy="194.9" r="3.9" fill="#0b5a2a" stroke="#06361a" stroke-width="1"/>
<circle cx="637.3" cy="198.7" r="3.9" fill="#e8194b" stroke="#9a0f30" stroke-width="1"/>
<circle cx="638.3" cy="205.4" r="3.9" fill="#0b5a2a" stroke="#06361a" stroke-width="1"/>
<circle cx="641.5" cy="209.6" r="3.9" fill="#0b5a2a" stroke="#06361a" stroke-width="1"/>
<circle cx="640.8" cy="215" r="3.9" fill="#0000ff" stroke="#00007a" stroke-width="1"/>
<circle cx="644" cy="217.8" r="3.9" fill="#0000ff" stroke="#00007a" stroke-width="1"/>
<circle cx="644.9" cy="222.8" r="3.9" fill="#e8194b" stroke="#9a0f30" stroke-width="1"/>
<circle cx="651.8" cy="241.6" r="3.9" fill="#e8194b" stroke="#9a0f30" stroke-width="1"/>
<circle cx="652.7" cy="247" r="3.9" fill="#0b5a2a" stroke="#06361a" stroke-width="1"/>
<circle cx="654.1" cy="250.2" r="3.9" fill="#e8194b" stroke="#9a0f30" stroke-width="1"/>
<circle cx="658.3" cy="252.6" r="3.9" fill="#f8d212" stroke="#8a7400" stroke-width="1"/>
<circle cx="652.4" cy="256.4" r="3.9" fill="#64b083" stroke="#24603e" stroke-width="1"/>
<circle cx="656.6" cy="257.8" r="3.9" fill="#0000ff" stroke="#00007a" stroke-width="1"/>
<circle cx="660.7" cy="259.6" r="3.9" fill="#0b5a2a" stroke="#06361a" stroke-width="1"/>
<circle cx="671.6" cy="264.8" r="3.9" fill="#0b5a2a" stroke="#06361a" stroke-width="1"/>
<circle cx="678.6" cy="267.8" r="3.9" fill="#0b5a2a" stroke="#06361a" stroke-width="1"/>
<circle cx="686.2" cy="271.6" r="3.9" fill="#0000ff" stroke="#00007a" stroke-width="1"/>
<circle cx="704.4" cy="279.3" r="3.9" fill="#0b5a2a" stroke="#06361a" stroke-width="1"/>
<circle cx="717.8" cy="286.2" r="3.9" fill="#0000ff" stroke="#00007a" stroke-width="1"/>
<circle cx="727.3" cy="291.7" r="3.9" fill="#64b083" stroke="#24603e" stroke-width="1"/>
<circle cx="741.9" cy="298.5" r="3.9" fill="#0000ff" stroke="#00007a" stroke-width="1"/>
<circle cx="753.2" cy="305.3" r="3.9" fill="#0b5a2a" stroke="#06361a" stroke-width="1"/>
<circle cx="769.5" cy="312.9" r="3.9" fill="#0b5a2a" stroke="#06361a" stroke-width="1"/>
<circle cx="784.8" cy="320.5" r="3.9" fill="#0000ff" stroke="#00007a" stroke-width="1"/>
<circle cx="798" cy="327.2" r="3.9" fill="#0b5a2a" stroke="#06361a" stroke-width="1"/>
<circle cx="808.8" cy="333.2" r="3.9" fill="#0000ff" stroke="#00007a" stroke-width="1"/>
<circle cx="830.7" cy="343.6" r="3.9" fill="#64b083" stroke="#24603e" stroke-width="1"/>
<circle cx="839.6" cy="348.5" r="3.9" fill="#0b5a2a" stroke="#06361a" stroke-width="1"/>
<circle cx="853.1" cy="355.4" r="3.9" fill="#0000ff" stroke="#00007a" stroke-width="1"/>
<circle cx="862.2" cy="358.7" r="3.9" fill="#0b5a2a" stroke="#06361a" stroke-width="1"/>
<circle cx="867.3" cy="361.7" r="3.9" fill="#0000ff" stroke="#00007a" stroke-width="1"/>
<circle cx="873.4" cy="364.8" r="3.9" fill="#64b083" stroke="#24603e" stroke-width="1"/>
<circle cx="893.3" cy="377.5" r="3.9" fill="#64b083" stroke="#24603e" stroke-width="1"/>
<circle cx="900.1" cy="380.5" r="3.9" fill="#64b083" stroke="#24603e" stroke-width="1"/>
<circle cx="912" cy="385.9" r="3.9" fill="#0b5a2a" stroke="#06361a" stroke-width="1"/>
<circle cx="926.7" cy="390.8" r="3.9" fill="#0b5a2a" stroke="#06361a" stroke-width="1"/>
<circle cx="937.6" cy="395.3" r="3.9" fill="#0000ff" stroke="#00007a" stroke-width="1"/>
<circle cx="949" cy="400.2" r="3.9" fill="#0000ff" stroke="#00007a" stroke-width="1"/>
<circle cx="957.5" cy="404" r="3.9" fill="#0000ff" stroke="#00007a" stroke-width="1"/>
<circle cx="968" cy="408.1" r="3.9" fill="#64b083" stroke="#24603e" stroke-width="1"/>
<circle cx="986" cy="413.5" r="3.9" fill="#0000ff" stroke="#00007a" stroke-width="1"/>
<circle cx="990" cy="417.2" r="3.9" fill="#0000ff" stroke="#00007a" stroke-width="1"/>
<circle cx="1026.2" cy="431" r="3.9" fill="#64b083" stroke="#24603e" stroke-width="1"/>
<circle cx="1031" cy="430.6" r="3.9" fill="#0000ff" stroke="#00007a" stroke-width="1"/>
<circle cx="1036.5" cy="433.7" r="3.9" fill="#0000ff" stroke="#00007a" stroke-width="1"/>
<circle cx="1042.5" cy="436.8" r="3.9" fill="#64b083" stroke="#24603e" stroke-width="1"/>
<circle cx="1049.2" cy="439.5" r="3.9" fill="#0000ff" stroke="#00007a" stroke-width="1"/>
<circle cx="1056" cy="442.1" r="3.9" fill="#64b083" stroke="#24603e" stroke-width="1"/>
<circle cx="1067.6" cy="446.3" r="3.9" fill="#0000ff" stroke="#00007a" stroke-width="1"/>
<circle cx="1076.1" cy="451" r="3.9" fill="#0000ff" stroke="#00007a" stroke-width="1"/>
<circle cx="1085.9" cy="454.6" r="3.9" fill="#64b083" stroke="#24603e" stroke-width="1"/>
<circle cx="1098.3" cy="459.3" r="3.9" fill="#0000ff" stroke="#00007a" stroke-width="1"/>
<circle cx="1118.5" cy="467" r="3.9" fill="#64b083" stroke="#24603e" stroke-width="1"/>
<circle cx="1152.7" cy="481.3" r="3.9" fill="#64b083" stroke="#24603e" stroke-width="1"/>
<circle cx="1167.4" cy="487.4" r="3.9" fill="#64b083" stroke="#24603e" stroke-width="1"/>
<circle cx="1182.4" cy="493" r="3.9" fill="#64b083" stroke="#24603e" stroke-width="1"/>
<circle cx="1209.4" cy="504.7" r="3.9" fill="#64b083" stroke="#24603e" stroke-width="1"/>
<circle cx="1224.8" cy="510.3" r="3.9" fill="#64b083" stroke="#24603e" stroke-width="1"/>
<circle cx="1288" cy="535.3" r="3.9" fill="#64b083" stroke="#24603e" stroke-width="1"/>
<circle cx="1308.2" cy="544" r="3.9" fill="#64b083" stroke="#24603e" stroke-width="1"/>
<circle cx="1357.9" cy="564.3" r="3.9" fill="#64b083" stroke="#24603e" stroke-width="1"/>
<circle cx="1364.7" cy="566.9" r="3.9" fill="#64b083" stroke="#24603e" stroke-width="1"/>
<circle cx="1384.7" cy="575.4" r="3.9" fill="#64b083" stroke="#24603e" stroke-width="1"/>
<circle cx="1409.7" cy="585" r="3.9" fill="#64b083" stroke="#24603e" stroke-width="1"/>
<circle cx="1438.4" cy="596.6" r="3.9" fill="#64b083" stroke="#24603e" stroke-width="1"/>
<circle cx="1460.4" cy="606.2" r="3.9" fill="#64b083" stroke="#24603e" stroke-width="1"/>
<circle cx="1476.7" cy="612" r="3.9" fill="#64b083" stroke="#24603e" stroke-width="1"/>
<circle cx="1513.3" cy="626.2" r="3.9" fill="#64b083" stroke="#24603e" stroke-width="1"/>
<circle cx="1535.3" cy="635" r="3.9" fill="#64b083" stroke="#24603e" stroke-width="1"/>
<circle cx="1543.7" cy="638.8" r="3.9" fill="#64b083" stroke="#24603e" stroke-width="1"/>
<line x1="588" y1="47.5" x2="659.8" y2="273.6" stroke="#ff0000" stroke-width="1.1"/>
<line x1="605" y1="231" x2="1128.8" y2="493.5" stroke="#22a022" stroke-width="1.05"/>
<line x1="692.6" y1="294.4" x2="1590" y2="658.6" stroke="#0000ff" stroke-width="1.1"/>
</g>
<rect x="51.5" y="47.5" width="421.1" height="618.5" fill="none" stroke="#2e2e2e" stroke-width="1.6"/>
<path d="M545.2 47.5H1590V666H545.2" fill="none" stroke="#2e2e2e" stroke-width="1.6"/>
<line x1="75.9" y1="665" x2="75.9" y2="671.6" stroke="#cfcfcf" stroke-width="1.8"/>
<line x1="152.38" y1="665" x2="152.38" y2="671.6" stroke="#cfcfcf" stroke-width="1.8"/>
<line x1="228.86" y1="665" x2="228.86" y2="671.6" stroke="#cfcfcf" stroke-width="1.8"/>
<line x1="305.34" y1="665" x2="305.34" y2="671.6" stroke="#cfcfcf" stroke-width="1.8"/>
<line x1="381.82" y1="665" x2="381.82" y2="671.6" stroke="#cfcfcf" stroke-width="1.8"/>
<line x1="458.3" y1="665" x2="458.3" y2="671.6" stroke="#cfcfcf" stroke-width="1.8"/>
<line x1="584.5" y1="665" x2="584.5" y2="671.6" stroke="#cfcfcf" stroke-width="1.8"/>
<line x1="690.6" y1="665" x2="690.6" y2="671.6" stroke="#cfcfcf" stroke-width="1.8"/>
<line x1="796.7" y1="665" x2="796.7" y2="671.6" stroke="#cfcfcf" stroke-width="1.8"/>
<line x1="902.8" y1="665" x2="902.8" y2="671.6" stroke="#cfcfcf" stroke-width="1.8"/>
<line x1="1008.9" y1="665" x2="1008.9" y2="671.6" stroke="#cfcfcf" stroke-width="1.8"/>
<line x1="1115" y1="665" x2="1115" y2="671.6" stroke="#cfcfcf" stroke-width="1.8"/>
<line x1="1221.1" y1="665" x2="1221.1" y2="671.6" stroke="#cfcfcf" stroke-width="1.8"/>
<line x1="1327.2" y1="665" x2="1327.2" y2="671.6" stroke="#cfcfcf" stroke-width="1.8"/>
<line x1="1433.3" y1="665" x2="1433.3" y2="671.6" stroke="#cfcfcf" stroke-width="1.8"/>
<line x1="1539.4" y1="665" x2="1539.4" y2="671.6" stroke="#cfcfcf" stroke-width="1.8"/>
<line x1="545.2" y1="63.5" x2="545.2" y2="651.5" stroke="#1a1a1a" stroke-width="1.6"/>
<path d="M545.2 48.2L549.4 55.5H547.4V62.6L545.3 63.6L543.4 62.6V55.5H541.3Z" fill="#fff" stroke="#111" stroke-width="1.1" stroke-linejoin="miter"/>
<path d="M543.6 651.5H547.6V658.8H549.5L545.6 666.2L541.6 658.8H543.6Z" fill="#fff" stroke="#111" stroke-width="1.1"/>
<line x1="46.7" y1="50.4" x2="52.7" y2="50.4" stroke="#bdbdbd" stroke-width="1.6"/>
<line x1="48.5" y1="53.44" x2="52.4" y2="53.44" stroke="#8c8c8c" stroke-width="0.9"/>
<line x1="48.5" y1="56.47" x2="52.4" y2="56.47" stroke="#8c8c8c" stroke-width="0.9"/>
<line x1="48.5" y1="59.51" x2="52.4" y2="59.51" stroke="#8c8c8c" stroke-width="0.9"/>
<line x1="48.5" y1="62.54" x2="52.4" y2="62.54" stroke="#8c8c8c" stroke-width="0.9"/>
<line x1="48.5" y1="65.58" x2="52.4" y2="65.58" stroke="#8c8c8c" stroke-width="0.9"/>
<line x1="46.7" y1="68.61" x2="52.7" y2="68.61" stroke="#bdbdbd" stroke-width="1.6"/>
<line x1="48.5" y1="71.65" x2="52.4" y2="71.65" stroke="#8c8c8c" stroke-width="0.9"/>
<line x1="48.5" y1="74.69" x2="52.4" y2="74.69" stroke="#8c8c8c" stroke-width="0.9"/>
<line x1="48.5" y1="77.72" x2="52.4" y2="77.72" stroke="#8c8c8c" stroke-width="0.9"/>
<line x1="48.5" y1="80.76" x2="52.4" y2="80.76" stroke="#8c8c8c" stroke-width="0.9"/>
<line x1="48.5" y1="83.79" x2="52.4" y2="83.79" stroke="#8c8c8c" stroke-width="0.9"/>
<line x1="46.7" y1="86.83" x2="52.7" y2="86.83" stroke="#bdbdbd" stroke-width="1.6"/>
<line x1="48.5" y1="89.87" x2="52.4" y2="89.87" stroke="#8c8c8c" stroke-width="0.9"/>
<line x1="48.5" y1="92.9" x2="52.4" y2="92.9" stroke="#8c8c8c" stroke-width="0.9"/>
<line x1="48.5" y1="95.94" x2="52.4" y2="95.94" stroke="#8c8c8c" stroke-width="0.9"/>
<line x1="48.5" y1="98.97" x2="52.4" y2="98.97" stroke="#8c8c8c" stroke-width="0.9"/>
<line x1="48.5" y1="102.01" x2="52.4" y2="102.01" stroke="#8c8c8c" stroke-width="0.9"/>
<line x1="46.7" y1="105.05" x2="52.7" y2="105.05" stroke="#bdbdbd" stroke-width="1.6"/>
<line x1="48.5" y1="108.08" x2="52.4" y2="108.08" stroke="#8c8c8c" stroke-width="0.9"/>
<line x1="48.5" y1="111.12" x2="52.4" y2="111.12" stroke="#8c8c8c" stroke-width="0.9"/>
<line x1="48.5" y1="114.15" x2="52.4" y2="114.15" stroke="#8c8c8c" stroke-width="0.9"/>
<line x1="48.5" y1="117.19" x2="52.4" y2="117.19" stroke="#8c8c8c" stroke-width="0.9"/>
<line x1="48.5" y1="120.22" x2="52.4" y2="120.22" stroke="#8c8c8c" stroke-width="0.9"/>
<line x1="46.7" y1="123.26" x2="52.7" y2="123.26" stroke="#bdbdbd" stroke-width="1.6"/>
<line x1="48.5" y1="126.3" x2="52.4" y2="126.3" stroke="#8c8c8c" stroke-width="0.9"/>
<line x1="48.5" y1="129.33" x2="52.4" y2="129.33" stroke="#8c8c8c" stroke-width="0.9"/>
<line x1="48.5" y1="132.37" x2="52.4" y2="132.37" stroke="#8c8c8c" stroke-width="0.9"/>
<line x1="48.5" y1="135.4" x2="52.4" y2="135.4" stroke="#8c8c8c" stroke-width="0.9"/>
<line x1="48.5" y1="138.44" x2="52.4" y2="138.44" stroke="#8c8c8c" stroke-width="0.9"/>
<line x1="46.7" y1="141.47" x2="52.7" y2="141.47" stroke="#bdbdbd" stroke-width="1.6"/>
<line x1="48.5" y1="144.51" x2="52.4" y2="144.51" stroke="#8c8c8c" stroke-width="0.9"/>
<line x1="48.5" y1="147.55" x2="52.4" y2="147.55" stroke="#8c8c8c" stroke-width="0.9"/>
<line x1="48.5" y1="150.58" x2="52.4" y2="150.58" stroke="#8c8c8c" stroke-width="0.9"/>
<line x1="48.5" y1="153.62" x2="52.4" y2="153.62" stroke="#8c8c8c" stroke-width="0.9"/>
<line x1="48.5" y1="156.65" x2="52.4" y2="156.65" stroke="#8c8c8c" stroke-width="0.9"/>
<line x1="46.7" y1="159.69" x2="52.7" y2="159.69" stroke="#bdbdbd" stroke-width="1.6"/>
<line x1="48.5" y1="162.73" x2="52.4" y2="162.73" stroke="#8c8c8c" stroke-width="0.9"/>
<line x1="48.5" y1="165.76" x2="52.4" y2="165.76" stroke="#8c8c8c" stroke-width="0.9"/>
<line x1="48.5" y1="168.8" x2="52.4" y2="168.8" stroke="#8c8c8c" stroke-width="0.9"/>
<line x1="48.5" y1="171.83" x2="52.4" y2="171.83" stroke="#8c8c8c" stroke-width="0.9"/>
<line x1="48.5" y1="174.87" x2="52.4" y2="174.87" stroke="#8c8c8c" stroke-width="0.9"/>
<line x1="46.7" y1="177.91" x2="52.7" y2="177.91" stroke="#bdbdbd" stroke-width="1.6"/>
<line x1="48.5" y1="180.94" x2="52.4" y2="180.94" stroke="#8c8c8c" stroke-width="0.9"/>
<line x1="48.5" y1="183.98" x2="52.4" y2="183.98" stroke="#8c8c8c" stroke-width="0.9"/>
<line x1="48.5" y1="187.01" x2="52.4" y2="187.01" stroke="#8c8c8c" stroke-width="0.9"/>
<line x1="48.5" y1="190.05" x2="52.4" y2="190.05" stroke="#8c8c8c" stroke-width="0.9"/>
<line x1="48.5" y1="193.08" x2="52.4" y2="193.08" stroke="#8c8c8c" stroke-width="0.9"/>
<line x1="46.7" y1="196.12" x2="52.7" y2="196.12" stroke="#bdbdbd" stroke-width="1.6"/>
<line x1="48.5" y1="199.16" x2="52.4" y2="199.16" stroke="#8c8c8c" stroke-width="0.9"/>
<line x1="48.5" y1="202.19" x2="52.4" y2="202.19" stroke="#8c8c8c" stroke-width="0.9"/>
<line x1="48.5" y1="205.23" x2="52.4" y2="205.23" stroke="#8c8c8c" stroke-width="0.9"/>
<line x1="48.5" y1="208.26" x2="52.4" y2="208.26" stroke="#8c8c8c" stroke-width="0.9"/>
<line x1="48.5" y1="211.3" x2="52.4" y2="211.3" stroke="#8c8c8c" stroke-width="0.9"/>
<line x1="46.7" y1="214.34" x2="52.7" y2="214.34" stroke="#bdbdbd" stroke-width="1.6"/>
<line x1="48.5" y1="217.37" x2="52.4" y2="217.37" stroke="#8c8c8c" stroke-width="0.9"/>
<line x1="48.5" y1="220.41" x2="52.4" y2="220.41" stroke="#8c8c8c" stroke-width="0.9"/>
<line x1="48.5" y1="223.44" x2="52.4" y2="223.44" stroke="#8c8c8c" stroke-width="0.9"/>
<line x1="48.5" y1="226.48" x2="52.4" y2="226.48" stroke="#8c8c8c" stroke-width="0.9"/>
<line x1="48.5" y1="229.51" x2="52.4" y2="229.51" stroke="#8c8c8c" stroke-width="0.9"/>
<line x1="46.7" y1="232.55" x2="52.7" y2="232.55" stroke="#bdbdbd" stroke-width="1.6"/>
<line x1="48.5" y1="235.59" x2="52.4" y2="235.59" stroke="#8c8c8c" stroke-width="0.9"/>
<line x1="48.5" y1="238.62" x2="52.4" y2="238.62" stroke="#8c8c8c" stroke-width="0.9"/>
<line x1="48.5" y1="241.66" x2="52.4" y2="241.66" stroke="#8c8c8c" stroke-width="0.9"/>
<line x1="48.5" y1="244.69" x2="52.4" y2="244.69" stroke="#8c8c8c" stroke-width="0.9"/>
<line x1="48.5" y1="247.73" x2="52.4" y2="247.73" stroke="#8c8c8c" stroke-width="0.9"/>
<line x1="46.7" y1="250.77" x2="52.7" y2="250.77" stroke="#bdbdbd" stroke-width="1.6"/>
<line x1="48.5" y1="253.8" x2="52.4" y2="253.8" stroke="#8c8c8c" stroke-width="0.9"/>
<line x1="48.5" y1="256.84" x2="52.4" y2="256.84" stroke="#8c8c8c" stroke-width="0.9"/>
<line x1="48.5" y1="259.87" x2="52.4" y2="259.87" stroke="#8c8c8c" stroke-width="0.9"/>
<line x1="48.5" y1="262.91" x2="52.4" y2="262.91" stroke="#8c8c8c" stroke-width="0.9"/>
<line x1="48.5" y1="265.94" x2="52.4" y2="265.94" stroke="#8c8c8c" stroke-width="0.9"/>
<line x1="46.7" y1="268.98" x2="52.7" y2="268.98" stroke="#bdbdbd" stroke-width="1.6"/>
<line x1="48.5" y1="272.02" x2="52.4" y2="272.02" stroke="#8c8c8c" stroke-width="0.9"/>
<line x1="48.5" y1="275.05" x2="52.4" y2="275.05" stroke="#8c8c8c" stroke-width="0.9"/>
<line x1="48.5" y1="278.09" x2="52.4" y2="278.09" stroke="#8c8c8c" stroke-width="0.9"/>
<line x1="48.5" y1="281.12" x2="52.4" y2="281.12" stroke="#8c8c8c" stroke-width="0.9"/>
<line x1="48.5" y1="284.16" x2="52.4" y2="284.16" stroke="#8c8c8c" stroke-width="0.9"/>
<line x1="46.7" y1="287.19" x2="52.7" y2="287.19" stroke="#bdbdbd" stroke-width="1.6"/>
<line x1="48.5" y1="290.23" x2="52.4" y2="290.23" stroke="#8c8c8c" stroke-width="0.9"/>
<line x1="48.5" y1="293.27" x2="52.4" y2="293.27" stroke="#8c8c8c" stroke-width="0.9"/>
<line x1="48.5" y1="296.3" x2="52.4" y2="296.3" stroke="#8c8c8c" stroke-width="0.9"/>
<line x1="48.5" y1="299.34" x2="52.4" y2="299.34" stroke="#8c8c8c" stroke-width="0.9"/>
<line x1="48.5" y1="302.37" x2="52.4" y2="302.37" stroke="#8c8c8c" stroke-width="0.9"/>
<line x1="46.7" y1="305.41" x2="52.7" y2="305.41" stroke="#bdbdbd" stroke-width="1.6"/>
<line x1="48.5" y1="308.45" x2="52.4" y2="308.45" stroke="#8c8c8c" stroke-width="0.9"/>
<line x1="48.5" y1="311.48" x2="52.4" y2="311.48" stroke="#8c8c8c" stroke-width="0.9"/>
<line x1="48.5" y1="314.52" x2="52.4" y2="314.52" stroke="#8c8c8c" stroke-width="0.9"/>
<line x1="48.5" y1="317.55" x2="52.4" y2="317.55" stroke="#8c8c8c" stroke-width="0.9"/>
<line x1="48.5" y1="320.59" x2="52.4" y2="320.59" stroke="#8c8c8c" stroke-width="0.9"/>
<line x1="46.7" y1="323.62" x2="52.7" y2="323.62" stroke="#bdbdbd" stroke-width="1.6"/>
<line x1="48.5" y1="326.66" x2="52.4" y2="326.66" stroke="#8c8c8c" stroke-width="0.9"/>
<line x1="48.5" y1="329.7" x2="52.4" y2="329.7" stroke="#8c8c8c" stroke-width="0.9"/>
<line x1="48.5" y1="332.73" x2="52.4" y2="332.73" stroke="#8c8c8c" stroke-width="0.9"/>
<line x1="48.5" y1="335.77" x2="52.4" y2="335.77" stroke="#8c8c8c" stroke-width="0.9"/>
<line x1="48.5" y1="338.8" x2="52.4" y2="338.8" stroke="#8c8c8c" stroke-width="0.9"/>
<line x1="46.7" y1="341.84" x2="52.7" y2="341.84" stroke="#bdbdbd" stroke-width="1.6"/>
<line x1="48.5" y1="344.88" x2="52.4" y2="344.88" stroke="#8c8c8c" stroke-width="0.9"/>
<line x1="48.5" y1="347.91" x2="52.4" y2="347.91" stroke="#8c8c8c" stroke-width="0.9"/>
<line x1="48.5" y1="350.95" x2="52.4" y2="350.95" stroke="#8c8c8c" stroke-width="0.9"/>
<line x1="48.5" y1="353.98" x2="52.4" y2="353.98" stroke="#8c8c8c" stroke-width="0.9"/>
<line x1="48.5" y1="357.02" x2="52.4" y2="357.02" stroke="#8c8c8c" stroke-width="0.9"/>
<line x1="46.7" y1="360.06" x2="52.7" y2="360.06" stroke="#bdbdbd" stroke-width="1.6"/>
<line x1="48.5" y1="363.09" x2="52.4" y2="363.09" stroke="#8c8c8c" stroke-width="0.9"/>
<line x1="48.5" y1="366.13" x2="52.4" y2="366.13" stroke="#8c8c8c" stroke-width="0.9"/>
<line x1="48.5" y1="369.16" x2="52.4" y2="369.16" stroke="#8c8c8c" stroke-width="0.9"/>
<line x1="48.5" y1="372.2" x2="52.4" y2="372.2" stroke="#8c8c8c" stroke-width="0.9"/>
<line x1="48.5" y1="375.23" x2="52.4" y2="375.23" stroke="#8c8c8c" stroke-width="0.9"/>
<line x1="46.7" y1="378.27" x2="52.7" y2="378.27" stroke="#bdbdbd" stroke-width="1.6"/>
<line x1="48.5" y1="381.31" x2="52.4" y2="381.31" stroke="#8c8c8c" stroke-width="0.9"/>
<line x1="48.5" y1="384.34" x2="52.4" y2="384.34" stroke="#8c8c8c" stroke-width="0.9"/>
<line x1="48.5" y1="387.38" x2="52.4" y2="387.38" stroke="#8c8c8c" stroke-width="0.9"/>
<line x1="48.5" y1="390.41" x2="52.4" y2="390.41" stroke="#8c8c8c" stroke-width="0.9"/>
<line x1="48.5" y1="393.45" x2="52.4" y2="393.45" stroke="#8c8c8c" stroke-width="0.9"/>
<line x1="46.7" y1="396.49" x2="52.7" y2="396.49" stroke="#bdbdbd" stroke-width="1.6"/>
<line x1="48.5" y1="399.52" x2="52.4" y2="399.52" stroke="#8c8c8c" stroke-width="0.9"/>
<line x1="48.5" y1="402.56" x2="52.4" y2="402.56" stroke="#8c8c8c" stroke-width="0.9"/>
<line x1="48.5" y1="405.59" x2="52.4" y2="405.59" stroke="#8c8c8c" stroke-width="0.9"/>
<line x1="48.5" y1="408.63" x2="52.4" y2="408.63" stroke="#8c8c8c" stroke-width="0.9"/>
<line x1="48.5" y1="411.66" x2="52.4" y2="411.66" stroke="#8c8c8c" stroke-width="0.9"/>
<line x1="46.7" y1="414.7" x2="52.7" y2="414.7" stroke="#bdbdbd" stroke-width="1.6"/>
<line x1="48.5" y1="417.74" x2="52.4" y2="417.74" stroke="#8c8c8c" stroke-width="0.9"/>
<line x1="48.5" y1="420.77" x2="52.4" y2="420.77" stroke="#8c8c8c" stroke-width="0.9"/>
<line x1="48.5" y1="423.81" x2="52.4" y2="423.81" stroke="#8c8c8c" stroke-width="0.9"/>
<line x1="48.5" y1="426.84" x2="52.4" y2="426.84" stroke="#8c8c8c" stroke-width="0.9"/>
<line x1="48.5" y1="429.88" x2="52.4" y2="429.88" stroke="#8c8c8c" stroke-width="0.9"/>
<line x1="46.7" y1="432.91" x2="52.7" y2="432.91" stroke="#bdbdbd" stroke-width="1.6"/>
<line x1="48.5" y1="435.95" x2="52.4" y2="435.95" stroke="#8c8c8c" stroke-width="0.9"/>
<line x1="48.5" y1="438.99" x2="52.4" y2="438.99" stroke="#8c8c8c" stroke-width="0.9"/>
<line x1="48.5" y1="442.02" x2="52.4" y2="442.02" stroke="#8c8c8c" stroke-width="0.9"/>
<line x1="48.5" y1="445.06" x2="52.4" y2="445.06" stroke="#8c8c8c" stroke-width="0.9"/>
<line x1="48.5" y1="448.09" x2="52.4" y2="448.09" stroke="#8c8c8c" stroke-width="0.9"/>
<line x1="46.7" y1="451.13" x2="52.7" y2="451.13" stroke="#bdbdbd" stroke-width="1.6"/>
<line x1="48.5" y1="454.17" x2="52.4" y2="454.17" stroke="#8c8c8c" stroke-width="0.9"/>
<line x1="48.5" y1="457.2" x2="52.4" y2="457.2" stroke="#8c8c8c" stroke-width="0.9"/>
<line x1="48.5" y1="460.24" x2="52.4" y2="460.24" stroke="#8c8c8c" stroke-width="0.9"/>
<line x1="48.5" y1="463.27" x2="52.4" y2="463.27" stroke="#8c8c8c" stroke-width="0.9"/>
<line x1="48.5" y1="466.31" x2="52.4" y2="466.31" stroke="#8c8c8c" stroke-width="0.9"/>
<line x1="46.7" y1="469.34" x2="52.7" y2="469.34" stroke="#bdbdbd" stroke-width="1.6"/>
<line x1="48.5" y1="472.38" x2="52.4" y2="472.38" stroke="#8c8c8c" stroke-width="0.9"/>
<line x1="48.5" y1="475.42" x2="52.4" y2="475.42" stroke="#8c8c8c" stroke-width="0.9"/>
<line x1="48.5" y1="478.45" x2="52.4" y2="478.45" stroke="#8c8c8c" stroke-width="0.9"/>
<line x1="48.5" y1="481.49" x2="52.4" y2="481.49" stroke="#8c8c8c" stroke-width="0.9"/>
<line x1="48.5" y1="484.52" x2="52.4" y2="484.52" stroke="#8c8c8c" stroke-width="0.9"/>
<line x1="46.7" y1="487.56" x2="52.7" y2="487.56" stroke="#bdbdbd" stroke-width="1.6"/>
<line x1="48.5" y1="490.6" x2="52.4" y2="490.6" stroke="#8c8c8c" stroke-width="0.9"/>
<line x1="48.5" y1="493.63" x2="52.4" y2="493.63" stroke="#8c8c8c" stroke-width="0.9"/>
<line x1="48.5" y1="496.67" x2="52.4" y2="496.67" stroke="#8c8c8c" stroke-width="0.9"/>
<line x1="48.5" y1="499.7" x2="52.4" y2="499.7" stroke="#8c8c8c" stroke-width="0.9"/>
<line x1="48.5" y1="502.74" x2="52.4" y2="502.74" stroke="#8c8c8c" stroke-width="0.9"/>
<line x1="46.7" y1="505.77" x2="52.7" y2="505.77" stroke="#bdbdbd" stroke-width="1.6"/>
<line x1="48.5" y1="508.81" x2="52.4" y2="508.81" stroke="#8c8c8c" stroke-width="0.9"/>
<line x1="48.5" y1="511.85" x2="52.4" y2="511.85" stroke="#8c8c8c" stroke-width="0.9"/>
<line x1="48.5" y1="514.88" x2="52.4" y2="514.88" stroke="#8c8c8c" stroke-width="0.9"/>
<line x1="48.5" y1="517.92" x2="52.4" y2="517.92" stroke="#8c8c8c" stroke-width="0.9"/>
<line x1="48.5" y1="520.95" x2="52.4" y2="520.95" stroke="#8c8c8c" stroke-width="0.9"/>
<line x1="46.7" y1="523.99" x2="52.7" y2="523.99" stroke="#bdbdbd" stroke-width="1.6"/>
<line x1="48.5" y1="527.03" x2="52.4" y2="527.03" stroke="#8c8c8c" stroke-width="0.9"/>
<line x1="48.5" y1="530.06" x2="52.4" y2="530.06" stroke="#8c8c8c" stroke-width="0.9"/>
<line x1="48.5" y1="533.1" x2="52.4" y2="533.1" stroke="#8c8c8c" stroke-width="0.9"/>
<line x1="48.5" y1="536.13" x2="52.4" y2="536.13" stroke="#8c8c8c" stroke-width="0.9"/>
<line x1="48.5" y1="539.17" x2="52.4" y2="539.17" stroke="#8c8c8c" stroke-width="0.9"/>
<line x1="46.7" y1="542.21" x2="52.7" y2="542.21" stroke="#bdbdbd" stroke-width="1.6"/>
<line x1="48.5" y1="545.24" x2="52.4" y2="545.24" stroke="#8c8c8c" stroke-width="0.9"/>
<line x1="48.5" y1="548.28" x2="52.4" y2="548.28" stroke="#8c8c8c" stroke-width="0.9"/>
<line x1="48.5" y1="551.31" x2="52.4" y2="551.31" stroke="#8c8c8c" stroke-width="0.9"/>
<line x1="48.5" y1="554.35" x2="52.4" y2="554.35" stroke="#8c8c8c" stroke-width="0.9"/>
<line x1="48.5" y1="557.38" x2="52.4" y2="557.38" stroke="#8c8c8c" stroke-width="0.9"/>
<line x1="46.7" y1="560.42" x2="52.7" y2="560.42" stroke="#bdbdbd" stroke-width="1.6"/>
<line x1="48.5" y1="563.46" x2="52.4" y2="563.46" stroke="#8c8c8c" stroke-width="0.9"/>
<line x1="48.5" y1="566.49" x2="52.4" y2="566.49" stroke="#8c8c8c" stroke-width="0.9"/>
<line x1="48.5" y1="569.53" x2="52.4" y2="569.53" stroke="#8c8c8c" stroke-width="0.9"/>
<line x1="48.5" y1="572.56" x2="52.4" y2="572.56" stroke="#8c8c8c" stroke-width="0.9"/>
<line x1="48.5" y1="575.6" x2="52.4" y2="575.6" stroke="#8c8c8c" stroke-width="0.9"/>
<line x1="46.7" y1="578.63" x2="52.7" y2="578.63" stroke="#bdbdbd" stroke-width="1.6"/>
<line x1="48.5" y1="581.67" x2="52.4" y2="581.67" stroke="#8c8c8c" stroke-width="0.9"/>
<line x1="48.5" y1="584.71" x2="52.4" y2="584.71" stroke="#8c8c8c" stroke-width="0.9"/>
<line x1="48.5" y1="587.74" x2="52.4" y2="587.74" stroke="#8c8c8c" stroke-width="0.9"/>
<line x1="48.5" y1="590.78" x2="52.4" y2="590.78" stroke="#8c8c8c" stroke-width="0.9"/>
<line x1="48.5" y1="593.81" x2="52.4" y2="593.81" stroke="#8c8c8c" stroke-width="0.9"/>
<line x1="46.7" y1="596.85" x2="52.7" y2="596.85" stroke="#bdbdbd" stroke-width="1.6"/>
<line x1="48.5" y1="599.89" x2="52.4" y2="599.89" stroke="#8c8c8c" stroke-width="0.9"/>
<line x1="48.5" y1="602.92" x2="52.4" y2="602.92" stroke="#8c8c8c" stroke-width="0.9"/>
<line x1="48.5" y1="605.96" x2="52.4" y2="605.96" stroke="#8c8c8c" stroke-width="0.9"/>
<line x1="48.5" y1="608.99" x2="52.4" y2="608.99" stroke="#8c8c8c" stroke-width="0.9"/>
<line x1="48.5" y1="612.03" x2="52.4" y2="612.03" stroke="#8c8c8c" stroke-width="0.9"/>
<line x1="46.7" y1="615.06" x2="52.7" y2="615.06" stroke="#bdbdbd" stroke-width="1.6"/>
<line x1="48.5" y1="618.1" x2="52.4" y2="618.1" stroke="#8c8c8c" stroke-width="0.9"/>
<line x1="48.5" y1="621.14" x2="52.4" y2="621.14" stroke="#8c8c8c" stroke-width="0.9"/>
<line x1="48.5" y1="624.17" x2="52.4" y2="624.17" stroke="#8c8c8c" stroke-width="0.9"/>
<line x1="48.5" y1="627.21" x2="52.4" y2="627.21" stroke="#8c8c8c" stroke-width="0.9"/>
<line x1="48.5" y1="630.24" x2="52.4" y2="630.24" stroke="#8c8c8c" stroke-width="0.9"/>
<line x1="46.7" y1="633.28" x2="52.7" y2="633.28" stroke="#bdbdbd" stroke-width="1.6"/>
<line x1="48.5" y1="636.32" x2="52.4" y2="636.32" stroke="#8c8c8c" stroke-width="0.9"/>
<line x1="48.5" y1="639.35" x2="52.4" y2="639.35" stroke="#8c8c8c" stroke-width="0.9"/>
<line x1="48.5" y1="642.39" x2="52.4" y2="642.39" stroke="#8c8c8c" stroke-width="0.9"/>
<line x1="48.5" y1="645.42" x2="52.4" y2="645.42" stroke="#8c8c8c" stroke-width="0.9"/>
<line x1="48.5" y1="648.46" x2="52.4" y2="648.46" stroke="#8c8c8c" stroke-width="0.9"/>
<line x1="46.7" y1="651.5" x2="52.7" y2="651.5" stroke="#bdbdbd" stroke-width="1.6"/>
<line x1="48.5" y1="654.53" x2="52.4" y2="654.53" stroke="#8c8c8c" stroke-width="0.9"/>
<line x1="48.5" y1="657.57" x2="52.4" y2="657.57" stroke="#8c8c8c" stroke-width="0.9"/>
<line x1="48.5" y1="660.6" x2="52.4" y2="660.6" stroke="#8c8c8c" stroke-width="0.9"/>
<line x1="48.5" y1="663.64" x2="52.4" y2="663.64" stroke="#8c8c8c" stroke-width="0.9"/>
<line x1="542.2" y1="65.58" x2="546.1" y2="65.58" stroke="#8c8c8c" stroke-width="0.9"/>
<line x1="540.4" y1="68.61" x2="546.4" y2="68.61" stroke="#bdbdbd" stroke-width="1.6"/>
<line x1="542.2" y1="71.65" x2="546.1" y2="71.65" stroke="#8c8c8c" stroke-width="0.9"/>
<line x1="542.2" y1="74.69" x2="546.1" y2="74.69" stroke="#8c8c8c" stroke-width="0.9"/>
<line x1="542.2" y1="77.72" x2="546.1" y2="77.72" stroke="#8c8c8c" stroke-width="0.9"/>
<line x1="542.2" y1="80.76" x2="546.1" y2="80.76" stroke="#8c8c8c" stroke-width="0.9"/>
<line x1="542.2" y1="83.79" x2="546.1" y2="83.79" stroke="#8c8c8c" stroke-width="0.9"/>
<line x1="540.4" y1="86.83" x2="546.4" y2="86.83" stroke="#bdbdbd" stroke-width="1.6"/>
<line x1="542.2" y1="89.87" x2="546.1" y2="89.87" stroke="#8c8c8c" stroke-width="0.9"/>
<line x1="542.2" y1="92.9" x2="546.1" y2="92.9" stroke="#8c8c8c" stroke-width="0.9"/>
<line x1="542.2" y1="95.94" x2="546.1" y2="95.94" stroke="#8c8c8c" stroke-width="0.9"/>
<line x1="542.2" y1="98.97" x2="546.1" y2="98.97" stroke="#8c8c8c" stroke-width="0.9"/>
<line x1="542.2" y1="102.01" x2="546.1" y2="102.01" stroke="#8c8c8c" stroke-width="0.9"/>
<line x1="540.4" y1="105.05" x2="546.4" y2="105.05" stroke="#bdbdbd" stroke-width="1.6"/>
<line x1="542.2" y1="108.08" x2="546.1" y2="108.08" stroke="#8c8c8c" stroke-width="0.9"/>
<line x1="542.2" y1="111.12" x2="546.1" y2="111.12" stroke="#8c8c8c" stroke-width="0.9"/>
<line x1="542.2" y1="114.15" x2="546.1" y2="114.15" stroke="#8c8c8c" stroke-width="0.9"/>
<line x1="542.2" y1="117.19" x2="546.1" y2="117.19" stroke="#8c8c8c" stroke-width="0.9"/>
<line x1="542.2" y1="120.22" x2="546.1" y2="120.22" stroke="#8c8c8c" stroke-width="0.9"/>
<line x1="540.4" y1="123.26" x2="546.4" y2="123.26" stroke="#bdbdbd" stroke-width="1.6"/>
<line x1="542.2" y1="126.3" x2="546.1" y2="126.3" stroke="#8c8c8c" stroke-width="0.9"/>
<line x1="542.2" y1="129.33" x2="546.1" y2="129.33" stroke="#8c8c8c" stroke-width="0.9"/>
<line x1="542.2" y1="132.37" x2="546.1" y2="132.37" stroke="#8c8c8c" stroke-width="0.9"/>
<line x1="542.2" y1="135.4" x2="546.1" y2="135.4" stroke="#8c8c8c" stroke-width="0.9"/>
<line x1="542.2" y1="138.44" x2="546.1" y2="138.44" stroke="#8c8c8c" stroke-width="0.9"/>
<line x1="540.4" y1="141.47" x2="546.4" y2="141.47" stroke="#bdbdbd" stroke-width="1.6"/>
<line x1="542.2" y1="144.51" x2="546.1" y2="144.51" stroke="#8c8c8c" stroke-width="0.9"/>
<line x1="542.2" y1="147.55" x2="546.1" y2="147.55" stroke="#8c8c8c" stroke-width="0.9"/>
<line x1="542.2" y1="150.58" x2="546.1" y2="150.58" stroke="#8c8c8c" stroke-width="0.9"/>
<line x1="542.2" y1="153.62" x2="546.1" y2="153.62" stroke="#8c8c8c" stroke-width="0.9"/>
<line x1="542.2" y1="156.65" x2="546.1" y2="156.65" stroke="#8c8c8c" stroke-width="0.9"/>
<line x1="540.4" y1="159.69" x2="546.4" y2="159.69" stroke="#bdbdbd" stroke-width="1.6"/>
<line x1="542.2" y1="162.73" x2="546.1" y2="162.73" stroke="#8c8c8c" stroke-width="0.9"/>
<line x1="542.2" y1="165.76" x2="546.1" y2="165.76" stroke="#8c8c8c" stroke-width="0.9"/>
<line x1="542.2" y1="168.8" x2="546.1" y2="168.8" stroke="#8c8c8c" stroke-width="0.9"/>
<line x1="542.2" y1="171.83" x2="546.1" y2="171.83" stroke="#8c8c8c" stroke-width="0.9"/>
<line x1="542.2" y1="174.87" x2="546.1" y2="174.87" stroke="#8c8c8c" stroke-width="0.9"/>
<line x1="540.4" y1="177.91" x2="546.4" y2="177.91" stroke="#bdbdbd" stroke-width="1.6"/>
<line x1="542.2" y1="180.94" x2="546.1" y2="180.94" stroke="#8c8c8c" stroke-width="0.9"/>
<line x1="542.2" y1="183.98" x2="546.1" y2="183.98" stroke="#8c8c8c" stroke-width="0.9"/>
<line x1="542.2" y1="187.01" x2="546.1" y2="187.01" stroke="#8c8c8c" stroke-width="0.9"/>
<line x1="542.2" y1="190.05" x2="546.1" y2="190.05" stroke="#8c8c8c" stroke-width="0.9"/>
<line x1="542.2" y1="193.08" x2="546.1" y2="193.08" stroke="#8c8c8c" stroke-width="0.9"/>
<line x1="540.4" y1="196.12" x2="546.4" y2="196.12" stroke="#bdbdbd" stroke-width="1.6"/>
<line x1="542.2" y1="199.16" x2="546.1" y2="199.16" stroke="#8c8c8c" stroke-width="0.9"/>
<line x1="542.2" y1="202.19" x2="546.1" y2="202.19" stroke="#8c8c8c" stroke-width="0.9"/>
<line x1="542.2" y1="205.23" x2="546.1" y2="205.23" stroke="#8c8c8c" stroke-width="0.9"/>
<line x1="542.2" y1="208.26" x2="546.1" y2="208.26" stroke="#8c8c8c" stroke-width="0.9"/>
<line x1="542.2" y1="211.3" x2="546.1" y2="211.3" stroke="#8c8c8c" stroke-width="0.9"/>
<line x1="540.4" y1="214.34" x2="546.4" y2="214.34" stroke="#bdbdbd" stroke-width="1.6"/>
<line x1="542.2" y1="217.37" x2="546.1" y2="217.37" stroke="#8c8c8c" stroke-width="0.9"/>
<line x1="542.2" y1="220.41" x2="546.1" y2="220.41" stroke="#8c8c8c" stroke-width="0.9"/>
<line x1="542.2" y1="223.44" x2="546.1" y2="223.44" stroke="#8c8c8c" stroke-width="0.9"/>
<line x1="542.2" y1="226.48" x2="546.1" y2="226.48" stroke="#8c8c8c" stroke-width="0.9"/>
<line x1="542.2" y1="229.51" x2="546.1" y2="229.51" stroke="#8c8c8c" stroke-width="0.9"/>
<line x1="540.4" y1="232.55" x2="546.4" y2="232.55" stroke="#bdbdbd" stroke-width="1.6"/>
<line x1="542.2" y1="235.59" x2="546.1" y2="235.59" stroke="#8c8c8c" stroke-width="0.9"/>
<line x1="542.2" y1="238.62" x2="546.1" y2="238.62" stroke="#8c8c8c" stroke-width="0.9"/>
<line x1="542.2" y1="241.66" x2="546.1" y2="241.66" stroke="#8c8c8c" stroke-width="0.9"/>
<line x1="542.2" y1="244.69" x2="546.1" y2="244.69" stroke="#8c8c8c" stroke-width="0.9"/>
<line x1="542.2" y1="247.73" x2="546.1" y2="247.73" stroke="#8c8c8c" stroke-width="0.9"/>
<line x1="540.4" y1="250.77" x2="546.4" y2="250.77" stroke="#bdbdbd" stroke-width="1.6"/>
<line x1="542.2" y1="253.8" x2="546.1" y2="253.8" stroke="#8c8c8c" stroke-width="0.9"/>
<line x1="542.2" y1="256.84" x2="546.1" y2="256.84" stroke="#8c8c8c" stroke-width="0.9"/>
<line x1="542.2" y1="259.87" x2="546.1" y2="259.87" stroke="#8c8c8c" stroke-width="0.9"/>
<line x1="542.2" y1="262.91" x2="546.1" y2="262.91" stroke="#8c8c8c" stroke-width="0.9"/>
<line x1="542.2" y1="265.94" x2="546.1" y2="265.94" stroke="#8c8c8c" stroke-width="0.9"/>
<line x1="540.4" y1="268.98" x2="546.4" y2="268.98" stroke="#bdbdbd" stroke-width="1.6"/>
<line x1="542.2" y1="272.02" x2="546.1" y2="272.02" stroke="#8c8c8c" stroke-width="0.9"/>
<line x1="542.2" y1="275.05" x2="546.1" y2="275.05" stroke="#8c8c8c" stroke-width="0.9"/>
<line x1="542.2" y1="278.09" x2="546.1" y2="278.09" stroke="#8c8c8c" stroke-width="0.9"/>
<line x1="542.2" y1="281.12" x2="546.1" y2="281.12" stroke="#8c8c8c" stroke-width="0.9"/>
<line x1="542.2" y1="284.16" x2="546.1" y2="284.16" stroke="#8c8c8c" stroke-width="0.9"/>
<line x1="540.4" y1="287.19" x2="546.4" y2="287.19" stroke="#bdbdbd" stroke-width="1.6"/>
<line x1="542.2" y1="290.23" x2="546.1" y2="290.23" stroke="#8c8c8c" stroke-width="0.9"/>
<line x1="542.2" y1="293.27" x2="546.1" y2="293.27" stroke="#8c8c8c" stroke-width="0.9"/>
<line x1="542.2" y1="296.3" x2="546.1" y2="296.3" stroke="#8c8c8c" stroke-width="0.9"/>
<line x1="542.2" y1="299.34" x2="546.1" y2="299.34" stroke="#8c8c8c" stroke-width="0.9"/>
<line x1="542.2" y1="302.37" x2="546.1" y2="302.37" stroke="#8c8c8c" stroke-width="0.9"/>
<line x1="540.4" y1="305.41" x2="546.4" y2="305.41" stroke="#bdbdbd" stroke-width="1.6"/>
<line x1="542.2" y1="308.45" x2="546.1" y2="308.45" stroke="#8c8c8c" stroke-width="0.9"/>
<line x1="542.2" y1="311.48" x2="546.1" y2="311.48" stroke="#8c8c8c" stroke-width="0.9"/>
<line x1="542.2" y1="314.52" x2="546.1" y2="314.52" stroke="#8c8c8c" stroke-width="0.9"/>
<line x1="542.2" y1="317.55" x2="546.1" y2="317.55" stroke="#8c8c8c" stroke-width="0.9"/>
<line x1="542.2" y1="320.59" x2="546.1" y2="320.59" stroke="#8c8c8c" stroke-width="0.9"/>
<line x1="540.4" y1="323.62" x2="546.4" y2="323.62" stroke="#bdbdbd" stroke-width="1.6"/>
<line x1="542.2" y1="326.66" x2="546.1" y2="326.66" stroke="#8c8c8c" stroke-width="0.9"/>
<line x1="542.2" y1="329.7" x2="546.1" y2="329.7" stroke="#8c8c8c" stroke-width="0.9"/>
<line x1="542.2" y1="332.73" x2="546.1" y2="332.73" stroke="#8c8c8c" stroke-width="0.9"/>
<line x1="542.2" y1="335.77" x2="546.1" y2="335.77" stroke="#8c8c8c" stroke-width="0.9"/>
<line x1="542.2" y1="338.8" x2="546.1" y2="338.8" stroke="#8c8c8c" stroke-width="0.9"/>
<line x1="540.4" y1="341.84" x2="546.4" y2="341.84" stroke="#bdbdbd" stroke-width="1.6"/>
<line x1="542.2" y1="344.88" x2="546.1" y2="344.88" stroke="#8c8c8c" stroke-width="0.9"/>
<line x1="542.2" y1="347.91" x2="546.1" y2="347.91" stroke="#8c8c8c" stroke-width="0.9"/>
<line x1="542.2" y1="350.95" x2="546.1" y2="350.95" stroke="#8c8c8c" stroke-width="0.9"/>
<line x1="542.2" y1="353.98" x2="546.1" y2="353.98" stroke="#8c8c8c" stroke-width="0.9"/>
<line x1="542.2" y1="357.02" x2="546.1" y2="357.02" stroke="#8c8c8c" stroke-width="0.9"/>
<line x1="540.4" y1="360.06" x2="546.4" y2="360.06" stroke="#bdbdbd" stroke-width="1.6"/>
<line x1="542.2" y1="363.09" x2="546.1" y2="363.09" stroke="#8c8c8c" stroke-width="0.9"/>
<line x1="542.2" y1="366.13" x2="546.1" y2="366.13" stroke="#8c8c8c" stroke-width="0.9"/>
<line x1="542.2" y1="369.16" x2="546.1" y2="369.16" stroke="#8c8c8c" stroke-width="0.9"/>
<line x1="542.2" y1="372.2" x2="546.1" y2="372.2" stroke="#8c8c8c" stroke-width="0.9"/>
<line x1="542.2" y1="375.23" x2="546.1" y2="375.23" stroke="#8c8c8c" stroke-width="0.9"/>
<line x1="540.4" y1="378.27" x2="546.4" y2="378.27" stroke="#bdbdbd" stroke-width="1.6"/>
<line x1="542.2" y1="381.31" x2="546.1" y2="381.31" stroke="#8c8c8c" stroke-width="0.9"/>
<line x1="542.2" y1="384.34" x2="546.1" y2="384.34" stroke="#8c8c8c" stroke-width="0.9"/>
<line x1="542.2" y1="387.38" x2="546.1" y2="387.38" stroke="#8c8c8c" stroke-width="0.9"/>
<line x1="542.2" y1="390.41" x2="546.1" y2="390.41" stroke="#8c8c8c" stroke-width="0.9"/>
<line x1="542.2" y1="393.45" x2="546.1" y2="393.45" stroke="#8c8c8c" stroke-width="0.9"/>
<line x1="540.4" y1="396.49" x2="546.4" y2="396.49" stroke="#bdbdbd" stroke-width="1.6"/>
<line x1="542.2" y1="399.52" x2="546.1" y2="399.52" stroke="#8c8c8c" stroke-width="0.9"/>
<line x1="542.2" y1="402.56" x2="546.1" y2="402.56" stroke="#8c8c8c" stroke-width="0.9"/>
<line x1="542.2" y1="405.59" x2="546.1" y2="405.59" stroke="#8c8c8c" stroke-width="0.9"/>
<line x1="542.2" y1="408.63" x2="546.1" y2="408.63" stroke="#8c8c8c" stroke-width="0.9"/>
<line x1="542.2" y1="411.66" x2="546.1" y2="411.66" stroke="#8c8c8c" stroke-width="0.9"/>
<line x1="540.4" y1="414.7" x2="546.4" y2="414.7" stroke="#bdbdbd" stroke-width="1.6"/>
<line x1="542.2" y1="417.74" x2="546.1" y2="417.74" stroke="#8c8c8c" stroke-width="0.9"/>
<line x1="542.2" y1="420.77" x2="546.1" y2="420.77" stroke="#8c8c8c" stroke-width="0.9"/>
<line x1="542.2" y1="423.81" x2="546.1" y2="423.81" stroke="#8c8c8c" stroke-width="0.9"/>
<line x1="542.2" y1="426.84" x2="546.1" y2="426.84" stroke="#8c8c8c" stroke-width="0.9"/>
<line x1="542.2" y1="429.88" x2="546.1" y2="429.88" stroke="#8c8c8c" stroke-width="0.9"/>
<line x1="540.4" y1="432.91" x2="546.4" y2="432.91" stroke="#bdbdbd" stroke-width="1.6"/>
<line x1="542.2" y1="435.95" x2="546.1" y2="435.95" stroke="#8c8c8c" stroke-width="0.9"/>
<line x1="542.2" y1="438.99" x2="546.1" y2="438.99" stroke="#8c8c8c" stroke-width="0.9"/>
<line x1="542.2" y1="442.02" x2="546.1" y2="442.02" stroke="#8c8c8c" stroke-width="0.9"/>
<line x1="542.2" y1="445.06" x2="546.1" y2="445.06" stroke="#8c8c8c" stroke-width="0.9"/>
<line x1="542.2" y1="448.09" x2="546.1" y2="448.09" stroke="#8c8c8c" stroke-width="0.9"/>
<line x1="540.4" y1="451.13" x2="546.4" y2="451.13" stroke="#bdbdbd" stroke-width="1.6"/>
<line x1="542.2" y1="454.17" x2="546.1" y2="454.17" stroke="#8c8c8c" stroke-width="0.9"/>
<line x1="542.2" y1="457.2" x2="546.1" y2="457.2" stroke="#8c8c8c" stroke-width="0.9"/>
<line x1="542.2" y1="460.24" x2="546.1" y2="460.24" stroke="#8c8c8c" stroke-width="0.9"/>
<line x1="542.2" y1="463.27" x2="546.1" y2="463.27" stroke="#8c8c8c" stroke-width="0.9"/>
<line x1="542.2" y1="466.31" x2="546.1" y2="466.31" stroke="#8c8c8c" stroke-width="0.9"/>
<line x1="540.4" y1="469.34" x2="546.4" y2="469.34" stroke="#bdbdbd" stroke-width="1.6"/>
<line x1="542.2" y1="472.38" x2="546.1" y2="472.38" stroke="#8c8c8c" stroke-width="0.9"/>
<line x1="542.2" y1="475.42" x2="546.1" y2="475.42" stroke="#8c8c8c" stroke-width="0.9"/>
<line x1="542.2" y1="478.45" x2="546.1" y2="478.45" stroke="#8c8c8c" stroke-width="0.9"/>
<line x1="542.2" y1="481.49" x2="546.1" y2="481.49" stroke="#8c8c8c" stroke-width="0.9"/>
<line x1="542.2" y1="484.52" x2="546.1" y2="484.52" stroke="#8c8c8c" stroke-width="0.9"/>
<line x1="540.4" y1="487.56" x2="546.4" y2="487.56" stroke="#bdbdbd" stroke-width="1.6"/>
<line x1="542.2" y1="490.6" x2="546.1" y2="490.6" stroke="#8c8c8c" stroke-width="0.9"/>
<line x1="542.2" y1="493.63" x2="546.1" y2="493.63" stroke="#8c8c8c" stroke-width="0.9"/>
<line x1="542.2" y1="496.67" x2="546.1" y2="496.67" stroke="#8c8c8c" stroke-width="0.9"/>
<line x1="542.2" y1="499.7" x2="546.1" y2="499.7" stroke="#8c8c8c" stroke-width="0.9"/>
<line x1="542.2" y1="502.74" x2="546.1" y2="502.74" stroke="#8c8c8c" stroke-width="0.9"/>
<line x1="540.4" y1="505.77" x2="546.4" y2="505.77" stroke="#bdbdbd" stroke-width="1.6"/>
<line x1="542.2" y1="508.81" x2="546.1" y2="508.81" stroke="#8c8c8c" stroke-width="0.9"/>
<line x1="542.2" y1="511.85" x2="546.1" y2="511.85" stroke="#8c8c8c" stroke-width="0.9"/>
<line x1="542.2" y1="514.88" x2="546.1" y2="514.88" stroke="#8c8c8c" stroke-width="0.9"/>
<line x1="542.2" y1="517.92" x2="546.1" y2="517.92" stroke="#8c8c8c" stroke-width="0.9"/>
<line x1="542.2" y1="520.95" x2="546.1" y2="520.95" stroke="#8c8c8c" stroke-width="0.9"/>
<line x1="540.4" y1="523.99" x2="546.4" y2="523.99" stroke="#bdbdbd" stroke-width="1.6"/>
<line x1="542.2" y1="527.03" x2="546.1" y2="527.03" stroke="#8c8c8c" stroke-width="0.9"/>
<line x1="542.2" y1="530.06" x2="546.1" y2="530.06" stroke="#8c8c8c" stroke-width="0.9"/>
<line x1="542.2" y1="533.1" x2="546.1" y2="533.1" stroke="#8c8c8c" stroke-width="0.9"/>
<line x1="542.2" y1="536.13" x2="546.1" y2="536.13" stroke="#8c8c8c" stroke-width="0.9"/>
<line x1="542.2" y1="539.17" x2="546.1" y2="539.17" stroke="#8c8c8c" stroke-width="0.9"/>
<line x1="540.4" y1="542.21" x2="546.4" y2="542.21" stroke="#bdbdbd" stroke-width="1.6"/>
<line x1="542.2" y1="545.24" x2="546.1" y2="545.24" stroke="#8c8c8c" stroke-width="0.9"/>
<line x1="542.2" y1="548.28" x2="546.1" y2="548.28" stroke="#8c8c8c" stroke-width="0.9"/>
<line x1="542.2" y1="551.31" x2="546.1" y2="551.31" stroke="#8c8c8c" stroke-width="0.9"/>
<line x1="542.2" y1="554.35" x2="546.1" y2="554.35" stroke="#8c8c8c" stroke-width="0.9"/>
<line x1="542.2" y1="557.38" x2="546.1" y2="557.38" stroke="#8c8c8c" stroke-width="0.9"/>
<line x1="540.4" y1="560.42" x2="546.4" y2="560.42" stroke="#bdbdbd" stroke-width="1.6"/>
<line x1="542.2" y1="563.46" x2="546.1" y2="563.46" stroke="#8c8c8c" stroke-width="0.9"/>
<line x1="542.2" y1="566.49" x2="546.1" y2="566.49" stroke="#8c8c8c" stroke-width="0.9"/>
<line x1="542.2" y1="569.53" x2="546.1" y2="569.53" stroke="#8c8c8c" stroke-width="0.9"/>
<line x1="542.2" y1="572.56" x2="546.1" y2="572.56" stroke="#8c8c8c" stroke-width="0.9"/>
<line x1="542.2" y1="575.6" x2="546.1" y2="575.6" stroke="#8c8c8c" stroke-width="0.9"/>
<line x1="540.4" y1="578.63" x2="546.4" y2="578.63" stroke="#bdbdbd" stroke-width="1.6"/>
<line x1="542.2" y1="581.67" x2="546.1" y2="581.67" stroke="#8c8c8c" stroke-width="0.9"/>
<line x1="542.2" y1="584.71" x2="546.1" y2="584.71" stroke="#8c8c8c" stroke-width="0.9"/>
<line x1="542.2" y1="587.74" x2="546.1" y2="587.74" stroke="#8c8c8c" stroke-width="0.9"/>
<line x1="542.2" y1="590.78" x2="546.1" y2="590.78" stroke="#8c8c8c" stroke-width="0.9"/>
<line x1="542.2" y1="593.81" x2="546.1" y2="593.81" stroke="#8c8c8c" stroke-width="0.9"/>
<line x1="540.4" y1="596.85" x2="546.4" y2="596.85" stroke="#bdbdbd" stroke-width="1.6"/>
<line x1="542.2" y1="599.89" x2="546.1" y2="599.89" stroke="#8c8c8c" stroke-width="0.9"/>
<line x1="542.2" y1="602.92" x2="546.1" y2="602.92" stroke="#8c8c8c" stroke-width="0.9"/>
<line x1="542.2" y1="605.96" x2="546.1" y2="605.96" stroke="#8c8c8c" stroke-width="0.9"/>
<line x1="542.2" y1="608.99" x2="546.1" y2="608.99" stroke="#8c8c8c" stroke-width="0.9"/>
<line x1="542.2" y1="612.03" x2="546.1" y2="612.03" stroke="#8c8c8c" stroke-width="0.9"/>
<line x1="540.4" y1="615.06" x2="546.4" y2="615.06" stroke="#bdbdbd" stroke-width="1.6"/>
<line x1="542.2" y1="618.1" x2="546.1" y2="618.1" stroke="#8c8c8c" stroke-width="0.9"/>
<line x1="542.2" y1="621.14" x2="546.1" y2="621.14" stroke="#8c8c8c" stroke-width="0.9"/>
<line x1="542.2" y1="624.17" x2="546.1" y2="624.17" stroke="#8c8c8c" stroke-width="0.9"/>
<line x1="542.2" y1="627.21" x2="546.1" y2="627.21" stroke="#8c8c8c" stroke-width="0.9"/>
<line x1="542.2" y1="630.24" x2="546.1" y2="630.24" stroke="#8c8c8c" stroke-width="0.9"/>
<line x1="540.4" y1="633.28" x2="546.4" y2="633.28" stroke="#bdbdbd" stroke-width="1.6"/>
<line x1="542.2" y1="636.32" x2="546.1" y2="636.32" stroke="#8c8c8c" stroke-width="0.9"/>
<line x1="542.2" y1="639.35" x2="546.1" y2="639.35" stroke="#8c8c8c" stroke-width="0.9"/>
<line x1="542.2" y1="642.39" x2="546.1" y2="642.39" stroke="#8c8c8c" stroke-width="0.9"/>
<line x1="542.2" y1="645.42" x2="546.1" y2="645.42" stroke="#8c8c8c" stroke-width="0.9"/>
<line x1="542.2" y1="648.46" x2="546.1" y2="648.46" stroke="#8c8c8c" stroke-width="0.9"/>
<rect x="619.5" y="96.5" width="149.2" height="53.5" fill="#fff" stroke="#1a1a1a" stroke-width="1.4"/>
<text x="621.4" y="107.6" font-size="10.5" text-anchor="start" fill="#000" font-weight="normal" textLength="68.7" lengthAdjust="spacingAndGlyphs">Gas RMA Line</text>
<text x="621.4" y="120" font-size="10.5" text-anchor="start" fill="#000" font-weight="normal" textLength="42.6" lengthAdjust="spacingAndGlyphs">Gradient</text>
<text x="672.8" y="120" font-size="10.5" text-anchor="start" fill="#000" font-weight="normal" textLength="31" lengthAdjust="spacingAndGlyphs">0.0539</text>
<text x="713" y="120" font-size="10.5" text-anchor="start" fill="#000" font-weight="normal" textLength="47.6" lengthAdjust="spacingAndGlyphs">(PSI/Feet)</text>
<text x="621.4" y="132.3" font-size="10.5" text-anchor="start" fill="#000" font-weight="normal" textLength="42.6" lengthAdjust="spacingAndGlyphs">Gradient</text>
<text x="672.8" y="132.3" font-size="10.5" text-anchor="start" fill="#000" font-weight="normal" textLength="31" lengthAdjust="spacingAndGlyphs">1.0382</text>
<text x="707.5" y="132.3" font-size="10.5" text-anchor="start" fill="#000" font-weight="normal" textLength="28.9" lengthAdjust="spacingAndGlyphs">(PPG)</text>
<text x="621.4" y="145.3" font-size="10.5" text-anchor="start" fill="#000" font-weight="normal" textLength="58.8" lengthAdjust="spacingAndGlyphs">R 0.9922978</text>
<rect x="615.1" y="325.1" width="150.1" height="54.4" fill="#fff" stroke="#1a1a1a" stroke-width="1.4"/>
<text x="617" y="336.2" font-size="10.5" text-anchor="start" fill="#000" font-weight="normal" textLength="63" lengthAdjust="spacingAndGlyphs">Oil RMA Line</text>
<text x="617" y="348.6" font-size="10.5" text-anchor="start" fill="#000" font-weight="normal" textLength="42.6" lengthAdjust="spacingAndGlyphs">Gradient</text>
<text x="668.4" y="348.6" font-size="10.5" text-anchor="start" fill="#000" font-weight="normal" textLength="31" lengthAdjust="spacingAndGlyphs">0.3408</text>
<text x="708.6" y="348.6" font-size="10.5" text-anchor="start" fill="#000" font-weight="normal" textLength="47.6" lengthAdjust="spacingAndGlyphs">(PSI/Feet)</text>
<text x="617" y="360.9" font-size="10.5" text-anchor="start" fill="#000" font-weight="normal" textLength="42.6" lengthAdjust="spacingAndGlyphs">Gradient</text>
<text x="668.4" y="360.9" font-size="10.5" text-anchor="start" fill="#000" font-weight="normal" textLength="31" lengthAdjust="spacingAndGlyphs">6.5593</text>
<text x="703.1" y="360.9" font-size="10.5" text-anchor="start" fill="#000" font-weight="normal" textLength="28.9" lengthAdjust="spacingAndGlyphs">(PPG)</text>
<text x="617" y="373.9" font-size="10.5" text-anchor="start" fill="#000" font-weight="normal" textLength="58.8" lengthAdjust="spacingAndGlyphs">R 0.9998905</text>
<rect x="1102.9" y="520.1" width="149.9" height="53.5" fill="#fff" stroke="#1a1a1a" stroke-width="1.4"/>
<text x="1104.8" y="531.2" font-size="10.5" text-anchor="start" fill="#000" font-weight="normal" textLength="77" lengthAdjust="spacingAndGlyphs">Water RMA Line</text>
<text x="1104.8" y="543.6" font-size="10.5" text-anchor="start" fill="#000" font-weight="normal" textLength="42.6" lengthAdjust="spacingAndGlyphs">Gradient</text>
<text x="1156.2" y="543.6" font-size="10.5" text-anchor="start" fill="#000" font-weight="normal" textLength="31" lengthAdjust="spacingAndGlyphs">0.4238</text>
<text x="1196.4" y="543.6" font-size="10.5" text-anchor="start" fill="#000" font-weight="normal" textLength="47.6" lengthAdjust="spacingAndGlyphs">(PSI/Feet)</text>
<text x="1104.8" y="555.9" font-size="10.5" text-anchor="start" fill="#000" font-weight="normal" textLength="42.6" lengthAdjust="spacingAndGlyphs">Gradient</text>
<text x="1156.2" y="555.9" font-size="10.5" text-anchor="start" fill="#000" font-weight="normal" textLength="31" lengthAdjust="spacingAndGlyphs">8.1581</text>
<text x="1190.9" y="555.9" font-size="10.5" text-anchor="start" fill="#000" font-weight="normal" textLength="28.9" lengthAdjust="spacingAndGlyphs">(PPG)</text>
<text x="1104.8" y="568.9" font-size="10.5" text-anchor="start" fill="#000" font-weight="normal" textLength="58.8" lengthAdjust="spacingAndGlyphs">R 0.9999875</text>
<rect x="758.2" y="239.2" width="113.7" height="28.8" fill="#fff" stroke="#1a1a1a" stroke-width="1.4"/>
<text x="760.2" y="250.5" font-size="10.5" text-anchor="start" fill="#000" font-weight="normal" textLength="91.4" lengthAdjust="spacingAndGlyphs">Pressure: 3782.326</text>
<text x="760.2" y="263.6" font-size="10.5" text-anchor="start" fill="#000" font-weight="normal" textLength="96.4" lengthAdjust="spacingAndGlyphs">Gas-Oil @ 8509.931</text>
<rect x="1009.7" y="365.8" width="123.2" height="28.7" fill="#fff" stroke="#1a1a1a" stroke-width="1.4"/>
<text x="1011.7" y="377.1" font-size="10.5" text-anchor="start" fill="#000" font-weight="normal" textLength="91.4" lengthAdjust="spacingAndGlyphs">Pressure: 3901.133</text>
<text x="1011.7" y="390.2" font-size="10.5" text-anchor="start" fill="#000" font-weight="normal" textLength="105" lengthAdjust="spacingAndGlyphs">Oil-Water @ 8858.581</text>
<rect x="1355.8" y="111.6" width="232.7" height="54.6" fill="#555"/>
<rect x="1354.3" y="110.1" width="232.7" height="54.6" fill="#ffffe1" stroke="#1a1a1a" stroke-width="1.2"/>
<line x1="1354.3" y1="124.7" x2="1587" y2="124.7" stroke="#1a1a1a" stroke-width="1.2"/>
<line x1="1354.3" y1="137.9" x2="1587" y2="137.9" stroke="#1a1a1a" stroke-width="1.2"/>
<line x1="1354.3" y1="151.3" x2="1587" y2="151.3" stroke="#1a1a1a" stroke-width="1.2"/>
<circle cx="1379" cy="117.6" r="3.6" fill="none" stroke="#000" stroke-width="1.1"/>
<line x1="1359.2" y1="131" x2="1398.5" y2="131" stroke="#ff2020" stroke-width="1.3"/>
<line x1="1359.2" y1="144.2" x2="1398.5" y2="144.2" stroke="#1a9a1a" stroke-width="1.3"/>
<line x1="1359.2" y1="157.7" x2="1398.5" y2="157.7" stroke="#2020ff" stroke-width="1.3"/>
<text x="1403.7" y="121.5" font-size="10.5" text-anchor="start" fill="#000" font-weight="normal" textLength="126.3" lengthAdjust="spacingAndGlyphs">610-784-674-2130 Well X0</text>
<text x="1403.7" y="134.8" font-size="10.5" text-anchor="start" fill="#000" font-weight="normal" textLength="160.8" lengthAdjust="spacingAndGlyphs">Gas RMA Line G 0.0539 R 0.9923</text>
<text x="1403.7" y="148.1" font-size="10.5" text-anchor="start" fill="#000" font-weight="normal" textLength="160.8" lengthAdjust="spacingAndGlyphs">Oil RMA Line G 0.3408 R 0.99989</text>
<text x="1403.7" y="161.5" font-size="10.5" text-anchor="start" fill="#000" font-weight="normal" textLength="175.2" lengthAdjust="spacingAndGlyphs">Water RMA Line G 0.4238 R 0.99999</text>
<rect x="57.6" y="408.2" width="337.2" height="42.4" fill="#d6d6d6"/>
<rect x="55.4" y="406.1" width="336.6" height="42.3" fill="#fff" stroke="#f03a3a" stroke-width="1.3"/>
<text x="59" y="420.6" font-size="15.4" text-anchor="start" fill="#000" font-weight="normal" textLength="327.5" lengthAdjust="spacingAndGlyphs">Data points with mobilities over 3500 have been</text>
<text x="58.2" y="440.9" font-size="15.4" text-anchor="start" fill="#000" font-weight="normal" textLength="193.2" lengthAdjust="spacingAndGlyphs">turned off in both&#160; diagrams.</text>
<text x="29.8" y="738.9" font-size="10.6" text-anchor="start" fill="#000" font-weight="bold" textLength="47.6" lengthAdjust="spacingAndGlyphs">Mobility</text>
<rect x="89" y="735.6" width="42.6" height="17.3" fill="#66ad88" stroke="#111" stroke-width="1.3"/>
<text x="91.2" y="729.7" font-size="10.8" text-anchor="start" fill="#111" font-weight="normal" textLength="30.6" lengthAdjust="spacingAndGlyphs">0-100</text>
<rect x="131.6" y="735.6" width="56.65" height="17.3" fill="#0000ff" stroke="#111" stroke-width="1.3"/>
<text x="133.8" y="729.7" font-size="10.8" text-anchor="start" fill="#111" font-weight="normal" textLength="43.6" lengthAdjust="spacingAndGlyphs">100-300</text>
<rect x="188.25" y="735.6" width="56.75" height="17.3" fill="#0b5a2a" stroke="#111" stroke-width="1.3"/>
<text x="190.45" y="729.7" font-size="10.8" text-anchor="start" fill="#111" font-weight="normal" textLength="44.4" lengthAdjust="spacingAndGlyphs">300-600</text>
<rect x="245" y="735.6" width="63" height="17.3" fill="#f8d215" stroke="#111" stroke-width="1.3"/>
<text x="247.2" y="729.7" font-size="10.8" text-anchor="start" fill="#111" font-weight="normal" textLength="51" lengthAdjust="spacingAndGlyphs">600-1200</text>
<rect x="308" y="735.6" width="70" height="17.3" fill="#e81e4b" stroke="#111" stroke-width="1.3"/>
<text x="310.2" y="729.7" font-size="10.8" text-anchor="start" fill="#111" font-weight="normal" textLength="57.6" lengthAdjust="spacingAndGlyphs">1200-5000</text>
<rect x="378" y="735.6" width="76.6" height="17.3" fill="#800080" stroke="#111" stroke-width="1.3"/>
<text x="380.2" y="729.7" font-size="10.8" text-anchor="start" fill="#111" font-weight="normal" textLength="64" lengthAdjust="spacingAndGlyphs">5000-30000</text>
</svg></body></html>
